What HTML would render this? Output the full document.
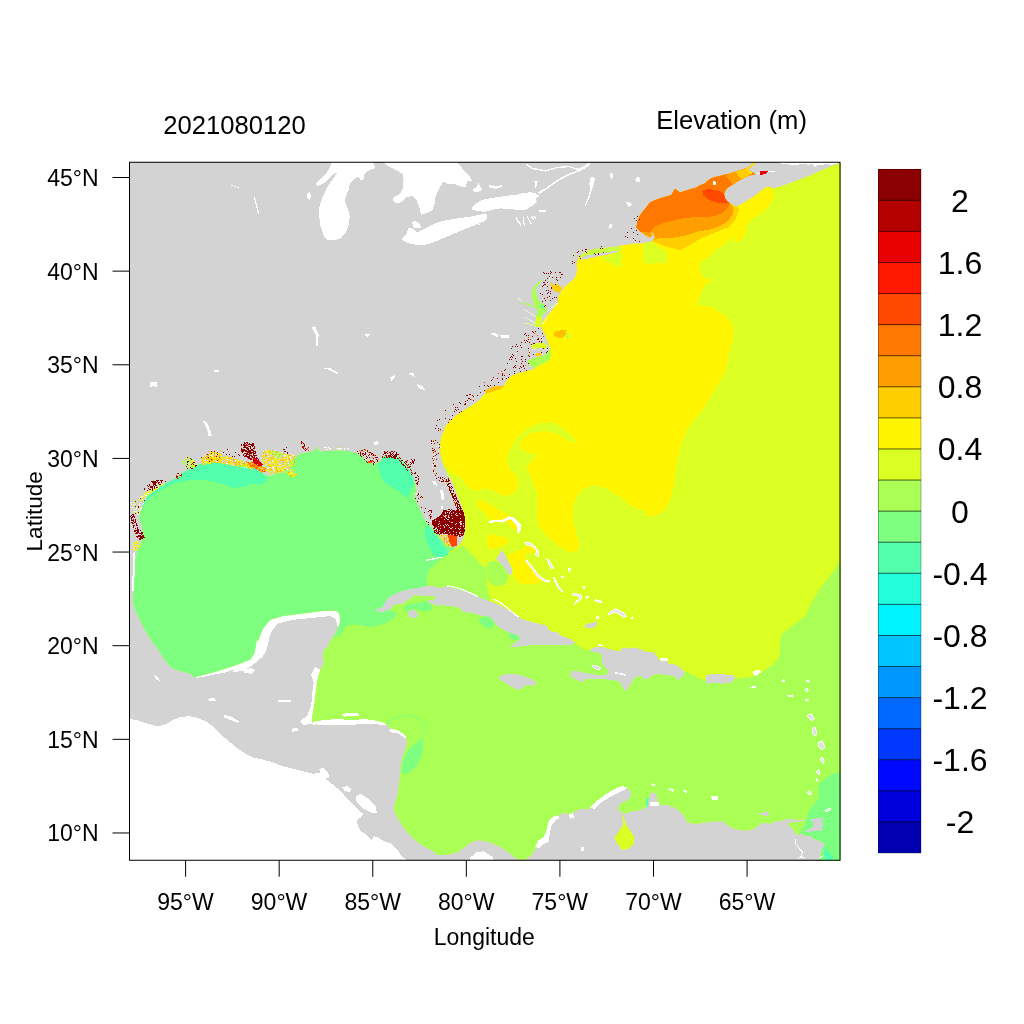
<!DOCTYPE html>
<html><head><meta charset="utf-8"><title>Elevation map</title>
<style>
html,body{margin:0;padding:0;background:#fff;}
body{width:1024px;height:1024px;overflow:hidden;font-family:"Liberation Sans",sans-serif;}
svg{display:block;will-change:transform;}
text{font-family:"Liberation Sans",sans-serif;fill:#000;}
</style></head><body>
<svg width="1024" height="1024" viewBox="0 0 1024 1024">

<defs>
<clipPath id="plot"><rect x="129" y="162" width="712" height="699"/></clipPath>
<clipPath id="ocean"><path d="M840.62 162.5 L839.84 163.28 L832.81 165.62 L825 168.75 L820.31 171.09 L815.62 172.66 L809.38 175.78 L803.12 178.12 L796.88 180.47 L790.62 182.81 L784.38 185.16 L778.12 186.72 L773.44 188.28 L768.75 186.72 L765.62 187.5 L762.5 189.84 L757.81 193.75 L753.12 196.88 L748.44 200 L743.75 203.12 L739.06 205.47 L735.16 206.25 L731.25 203.91 L727.34 201.56 L725 197.66 L724.22 193.75 L725.78 189.84 L728.12 187.5 L732.81 184.38 L737.5 181.25 L742.19 178.91 L746.88 176.56 L751.56 175 L755.47 174.22 L752.5 172.5 L749.5 170.6 L747.5 169 L751.6 166.4 L754.5 164 L755.5 162 L752 162 L753.12 163.28 L750 166.41 L745.31 168.44 L740.62 170 L735.94 171.56 L729.69 173.44 L723.44 175 L717.19 176.56 L711.72 178.12 L707.81 180.47 L704.69 183.59 L700 185.16 L696.25 187.5 L687.5 190 L680 192.5 L675 188.75 L671.25 195 L662.5 197.5 L655 200 L650 202.5 L645 208.75 L640 215 L637.5 221.25 L636.25 227.5 L640 231.25 L645 235 L650 237.5 L652.5 235 L650 232.5 L653 233 L655 238 L651.25 242 L640 243.75 L632.5 243.75 L630 244.4 L622.5 245.6 L615 246.9 L607.5 247.75 L600 248.5 L592.5 249.75 L587.5 251.25 L583.75 253.5 L581.25 255.6 L578.75 257.5 L577.5 260 L576.5 265 L577.5 270 L576.09 275.47 L573.75 279.38 L569.06 283.28 L564.38 287.19 L561.25 291.88 L558.91 295.78 L558.12 301.25 L555 306.72 L551.09 311.41 L547.19 316.09 L543.28 320.78 L540.94 324.69 L542.5 329.38 L545.62 335.62 L547.97 341.88 L550.31 348.12 L551.09 354.38 L549.53 359.06 L544.84 362.19 L539.38 365.31 L533.91 369.22 L528.44 370.78 L522.19 372.34 L515.94 373.91 L510.47 377.03 L506.56 380.94 L504.22 385.62 L498.75 388.75 L492.5 390.31 L486.25 392.66 L482.34 396.56 L478.44 401.25 L472.19 405.16 L465.94 409.06 L459.69 412.97 L453.44 417.66 L448.75 422.34 L444.84 427.03 L444.75 430 L441.5 436 L440.25 443.5 L440.25 451 L441.5 458.5 L444 466 L446.5 472.25 L450.25 478.5 L454 486 L457.75 496 L461.5 506 L464 513.5 L465.25 521 L465.25 531 L463.5 538.5 L460.25 543.5 L456.5 547.25 L450.25 547.25 L445.25 544.75 L441.5 539.75 L437.75 534.75 L434 529.75 L429 524.75 L424 518.5 L420.25 509.75 L416.5 502.25 L414 496 L416.5 491 L415.25 483.5 L412.75 476 L409 469.75 L405.25 464.75 L401.5 459.75 L397.75 457.25 L391.5 457.25 L384 456 L380.5 461 L374.25 464 L369.25 463 L365.5 459.75 L361.75 456 L355.5 453 L348 451 L338 450.5 L328 451 L319.25 451.5 L316.75 446 L314.25 451 L308 452.25 L300.5 453.5 L295.5 457.25 L290.5 461 L288 466 L293 469.75 L295.5 474.75 L290.5 472.25 L288 469.75 L283 472.25 L273 474.75 L268 476 L263 473.5 L258 469.75 L250.5 466 L243 464.75 L233 466 L223 463.5 L213 462.25 L203 463.5 L194.25 466 L188 469.75 L181.75 473.5 L175.5 478.5 L168 482.25 L160.5 486 L153 491 L146.75 497.25 L143.5 503.5 L140.5 511 L139.25 518.5 L141.75 526 L143.5 533.5 L141.75 541 L138 548.5 L135 561 L134.25 576 L133.5 591 L133 601 L135.5 611 L140.5 621 L145.5 631 L150.5 638.5 L150.5 640 L158 648.75 L163 657.5 L170.5 667.5 L180.5 671.25 L190.5 673.75 L194.25 677.5 L203 675 L213 672.5 L223 669.5 L233 666.25 L243 662.5 L250.5 659.5 L254.25 653.75 L256 645 L256.75 640 L258 641 L263 628.5 L270.5 619.75 L283 616 L303 613.5 L323 611 L335.5 610.5 L339.25 613.5 L340.5 619.75 L339.25 624.75 L338 628.5 L335.5 633.5 L330.5 641 L326.75 648.5 L323 653.5 L325.5 659.75 L325.5 647.5 L323 655 L324.25 662.5 L320.5 670 L318 677.5 L316.75 685 L315.5 695 L314.25 705 L313 712.5 L311.75 720 L313 723.75 L323 722.5 L333 721.25 L343 722.5 L353 722 L363 720.5 L373 721.25 L384 722.5 L391.5 728.75 L399 732.5 L405.25 736.25 L407.75 742.5 L405.25 750 L402.75 757.5 L401 765 L400.25 775 L399 785 L397.75 795 L395.25 802.5 L394 810 L397.75 817.5 L402.75 826.25 L409 833.75 L416.5 841.25 L424 846.25 L431.5 850 L437.75 855 L446.5 855 L456.5 852.5 L464 847.5 L470.25 842.5 L477.75 840 L486.5 841.25 L494 843.75 L501.5 847.5 L509 852.5 L515.25 857.5 L520.25 860 L526.5 858.75 L531.5 855 L535.25 848.75 L539 842.5 L544 838.75 L547.75 832.5 L549 825 L551.5 818.75 L559 815 L564 812.5 L570.25 815 L574 811.25 L581.5 808.75 L589 808.75 L596.5 805 L602.75 798.75 L609 793.75 L616.5 788.75 L624 787 L630.25 790 L631.5 796.25 L626.5 801.25 L620.25 803.75 L617.75 808.75 L624 813.75 L631.5 811.25 L640 810 L647.5 806.25 L648.75 800 L650 793.75 L653.75 792 L657 795 L658 802.5 L660 805 L667.5 805 L675 807.5 L681.25 812.5 L685 817.5 L687.5 822.5 L695 823.75 L705 822.5 L715 821.25 L723.75 821.25 L727.5 825 L732.5 828 L740 830 L747.5 830.5 L753.75 828.75 L758.75 825 L762.5 822.5 L770 823.75 L775 821.25 L782.5 820.5 L782.5 820.5 L785.7 818.91 L792.81 818.91 L798.91 819.92 L806.02 819.41 L805 820.94 L798.91 821.95 L792.81 822.46 L787.74 823.48 L789.77 826.02 L792.81 829.06 L795.86 833.13 L797.89 835.16 L800.94 833.13 L805 835.16 L810.08 835.67 L815.16 839.22 L821.25 841.25 L825.31 844.3 L823.28 847.35 L821.25 851.41 L820.24 855.47 L819.22 860.55 L840.5 860.5 L840.5 161.5Z"/></clipPath>
</defs>
<g clip-path="url(#plot)" shape-rendering="crispEdges">
<rect x="129" y="162" width="712" height="699" fill="#D3D3D3"/>
<g fill="#fff">
<path d="M128 718 L130 718.75 L138 720.5 L148 723.75 L156.75 726.25 L165.5 724.5 L173 720 L180.5 717 L189.25 716.25 L198 718 L208 722.5 L215.5 728.75 L223 736.25 L230.5 742.5 L238 748.75 L245.5 753.75 L253 757.5 L263 759.5 L273 762.5 L283 766.25 L293 768.75 L303 771.25 L313 773.75 L320.5 772.5 L323 768.75 L326.75 771.25 L328 776.25 L325.5 778.75 L331.75 783.75 L338 788.75 L343 793.75 L348 800 L353 805 L358 810 L363 813.75 L360.5 817.5 L356.75 820 L358 826.25 L360.5 831.25 L365.5 833.75 L369.25 837.5 L371.75 840 L374.25 836.25 L378 837.5 L384 841.25 L391.5 843.75 L397.75 850 L401.5 856.25 L407.75 860.5 L128 861Z"/>
<path d="M470.25 860.5 L470.25 857.5 L476.5 852 L484 851.25 L491.5 856.25 L495.25 860.5Z"/>
<path d="M355.5 796.25 L360.5 793.75 L368 798.75 L375.5 806.25 L376.75 812.5 L370.5 812.5 L363 808.75 L356.75 802.5Z"/>
<path d="M343 787.5 L348 787 L351 790 L346.75 791.5Z"/>
<path d="M331.25 160.98 L372.27 160.98 L375.2 167.81 L368.36 170.74 L364.45 173.67 L363.48 179.53 L360.55 180.51 L358.59 176.6 L353.71 179.53 L349.8 183.44 L348.83 189.3 L345.9 196.13 L344.92 201.99 L347.85 208.83 L349.8 216.64 L348.83 224.45 L345.9 232.27 L341.02 238.12 L334.18 240.47 L327.34 240.08 L323.44 235.2 L320.51 226.41 L319.53 218.59 L318.55 210.78 L320.51 202.97 L322.46 197.11 L325.39 191.25 L328.32 185.39 L333.2 178.55 L337.11 172.7 L334.18 173.67 L329.3 178.55 L323.44 183.44 L317.58 186.37 L315.62 184.41 L319.53 179.53 L325.39 174.65 L329.3 168.79 L331.25 163.91Z"/>
<path d="M382.03 160.98 L387.89 165.86 L395.7 169.77 L402.54 173.67 L403.52 179.53 L402.54 189.3 L399.61 194.18 L393.75 197.11 L392.77 201.02 L396.68 203.36 L401.56 201.99 L406.45 197.11 L412.3 196.13 L416.21 199.06 L419.14 206.88 L421.09 214.69 L426.95 213.12 L432.81 209.8 L434.77 202.97 L435.74 195.16 L439.65 187.34 L443.55 181.48 L448.44 184.41 L454.3 183.44 L460.16 186.37 L466.02 187.34 L466.99 181.48 L471.88 180.51 L469.92 176.6 L465.04 171.72 L461.13 166.84 L456.25 160.98Z"/>
<path d="M412.3 222.5 L415.23 220.55 L419.14 223.48 L421.09 227.38 L417.19 228.36 L413.28 227.38Z"/>
<path d="M401.56 239.1 L406.45 234.22 L408.4 228.36 L412.3 228.36 L417.19 232.66 L425 228.36 L434.77 223.48 L444.53 220.55 L456.25 218.59 L467.97 217.03 L479.69 214.69 L486.52 213.71 L487.5 217.62 L483.59 221.52 L473.83 225.43 L462.11 230.31 L450.39 235.2 L438.67 240.08 L428.91 243.98 L421.09 245.55 L411.33 243.98 L405.47 242.03Z"/>
<path d="M471.25 207.85 L475.16 203.95 L481.99 200.04 L490.78 198.09 L500.55 196.72 L508.36 195.55 L516.17 195.16 L522.03 193.2 L529.84 192.23 L535.7 193.2 L539.61 196.13 L535.7 198.09 L536.68 201.99 L533.75 204.92 L528.87 207.85 L523.98 210.39 L516.17 209.8 L508.36 208.83 L500.55 208.44 L492.73 209.8 L484.92 211.76 L477.11 211.17 L472.23 209.8Z"/>
<path d="M472.81 189.3 L476.13 187.34 L478.67 183.05 L480.62 187.34 L481.99 190.27 L477.11 192.23 L473.59 191.25Z"/>
<path d="M488.83 185 L496.64 186.37 L502.5 185 L502.11 186.95 L495.66 188.91 L489.8 187.34Z"/>
<path d="M306.84 193.2 L309.77 192.23 L311.33 196.13 L309.38 200.04 L307.42 198.09Z"/>
<path d="M233 672 L238 666 L253 656 L258 641 L263 628.5 L270.5 619.75 L283 616 L303 613.5 L323 611 L335.5 610.5 L339.25 613.5 L340.5 619.75 L339.25 625.5 L337.5 625.5 L335.5 619 L330.5 616 L318 617.25 L293 619.75 L278 623.5 L271.75 631 L268 641 L263 656 L253 664.75 L243 671Z"/>
<path d="M210.5 675 L203 677 L194.25 678 L203 675 L213 672.5 L223 669.5 L233 666.25 L243 662.5 L250.5 659.5 L254.25 653.75 L256 645 L256.75 637.5 L269.25 637.5 L268 645 L265.5 652.5 L261.75 657.5 L255.5 661.25 L248 664.25 L243 666.75 L233 670 L223 673Z"/>
<path d="M243 670 L250.5 668 L255.5 670 L251.75 673.75 L244.25 673Z"/>
<path d="M320.5 670 L318 677.5 L316.75 685 L315.5 695 L314.25 705 L313 712.5 L311.75 720 L313 723.75 L303 725 L300 721.5 L307.5 715 L311.25 705 L312 695 L313.75 682.5 L311.25 675 L315 667Z"/>
<path d="M313 723.75 L323 722.5 L333 721.25 L343 722.5 L353 722 L363 720.5 L373 721.25 L384 722.5 L393 726.25 L384 725 L373 724 L363 723.5 L353 725 L343 725.5 L333 724.5 L323 725.5Z"/>
</g>
<g clip-path="url(#ocean)">
<rect x="129" y="162" width="712" height="699" fill="#DCFF23"/>
<path fill="#AAFF55" d="M300 626 L338 622 L360 615 L384 608 L400 598 L410 593 L430 590 L470 600 L520 625 L560 636 L575.6 642.7 L580.3 647.3 L585 650.5 L591 649.5 L600 651 L620 660 L660 668 L684.2 671.5 L689.7 673 L696 677 L702.2 679.4 L705.3 680 L720 679 L735 677.5 L740 678.75 L750 677 L760 673.75 L765 670 L772.5 665 L778.75 657.5 L780.5 650 L780 641 L782.5 633.5 L792.5 626 L805 616 L812.5 601 L820 588.5 L830 576 L838.75 563.5 L842 559 L842 862 L300 862Z"/>
<path fill="#AAFF55" d="M439.06 560.16 L433.59 565.62 L428.12 571.88 L426.56 578.12 L427.34 585.94 L427.34 596.88 L489.84 603.12 L489.84 596.88 L488.28 593.75 L487.5 587.5 L486.72 581.25 L485.94 573.44 L485.16 567.97 L481.25 564.84 L478.12 560.94 L473.44 556.25 L468.75 551.56 L465.62 548.44 L462.5 545.31 L459.38 546.88 L453.12 551.56 L441.41 557.03Z"/>
<path fill="#AAFF55" d="M487.5 562.5 L493.75 560.94 L500 562.5 L504.69 567.19 L507.81 573.44 L507.81 579.69 L504.69 584.38 L498.44 585.94 L492.19 585.16 L488.28 581.25 L486.72 575 L485.94 568.75Z"/>
<path fill="#7FFF80" d="M120 440 L440 440 L450 500 L458 540 L456 548 L448 553 L439 560 L433.6 565.6 L428 571.9 L426.6 578 L427.3 586 L427 590 L410 592 L392 598 L388 606 L390 610.25 L392.5 611.25 L396.25 612.5 L396.9 614.4 L393.75 617.5 L390 620.6 L385 623.75 L378.75 625.6 L372.5 626.9 L366.25 626.5 L360 625 L353.75 624.4 L347.5 625 L343.75 628.75 L341.25 635 L336 636 L330 640 L300 700 L120 700Z"/>
<path fill="#FFF500" d="M768.75 186.72 L773.44 190.62 L775 195.31 L771.88 201.56 L767.19 207.81 L762.5 212.5 L754.69 217.19 L748.44 223.44 L745.31 228.12 L746.88 231.25 L743.75 237.5 L739.06 242.19 L734.38 242.19 L732.81 237.5 L726.56 242.19 L723.44 244.53 L715.62 250 L707.81 257.81 L700 262.5 L698.75 267.5 L702.5 277.5 L712.5 280 L705 285 L700 295 L696.25 305 L710 306.25 L720 312.5 L730 320 L733.75 330 L732.5 340 L728.75 355 L725 372.5 L715 390 L702.5 410 L697.5 416 L687.5 428.5 L681.25 443.5 L676.25 466 L673.75 486 L670 501 L662.5 512.25 L653.75 516 L646.25 516 L646.25 511 L640 509.75 L631.5 506 L619 496 L606.5 488.5 L594 484.75 L584 488.5 L576.5 496 L572.75 508.5 L572.75 521 L576.5 533.5 L579 543.5 L577.75 551 L569 552.25 L559 546 L546.5 536 L539 526 L536.5 516 L537.75 503.5 L536.5 491 L531.5 478.5 L526.5 468.5 L531.5 461 L537.75 454.75 L529 453.5 L519 448.5 L520.25 441 L529 433.5 L544 431 L556.5 433.5 L569 441 L577.75 442.25 L569 433.5 L554 422.25 L539 423.5 L526.5 428.5 L519 436 L511.5 446 L506.5 458.5 L509 468.5 L516.5 476 L519 483.5 L514 493.5 L504 496 L494 491 L484 488.5 L476.5 491 L469 488.5 L461.5 478.5 L451.5 473.5 L444 466 L430 460 L430 400 L520 300 L560 250 L620 220 L640 180 L760 160 L775 180Z"/>
<path fill="#DCFF23" d="M600 257.5 L607.5 255.62 L615 253.12 L621.25 250.62 L621.88 257.5 L620.62 266.25 L617.5 267.5 L612.5 263.75 L606.25 261.25 L601.25 259Z"/>
<path fill="#DCFF23" d="M643.75 245 L647.5 241.88 L652.5 241.25 L655 245 L660 248.12 L666.25 251.25 L667.5 258.75 L665 263.75 L657.5 263.12 L650 264.38 L643.75 262.5 L642.5 256.25 L643.75 250Z"/>
<path fill="#C8FF40" d="M582 258 L585 253 L590 250 L597.5 248 L605 247 L612 246.3 L620 245.5 L622 250 L615 251.2 L610 252 L602.5 253 L595 254.2 L588.75 255.2Z"/>
<path fill="#FFCE00" d="M654 242 L665 246.25 L680 250 L690 245 L702.5 237.5 L715 232.5 L727.5 227.5 L735 220 L738.75 210 L737.5 206 L735 203 L760 175 L760 160 L640 160 L630 240Z"/>
<path fill="#FF9E00" d="M653.75 240 L660 237.5 L675 237.5 L687.5 235 L700 231 L709.4 229.7 L718.75 226.6 L726.6 221.9 L732 215.6 L733.6 209.4 L731.25 204 L760 175 L760 160 L640 160 L630 240Z"/>
<path fill="#FF7800" d="M650 232.5 L655 226.25 L665 222.5 L680 218.75 L695 217 L707.8 217.2 L715.6 215.6 L723.4 212.5 L728 207.8 L729.7 203 L760 175 L760 160 L640 160 L630 232Z"/>
<path fill="#FF4800" d="M702.34 190.62 L707.81 189.06 L715.62 189.84 L721.88 192.19 L724.22 194.53 L725.78 200 L729.69 203.12 L723.44 203.12 L715.62 202.34 L707.81 199.22 L703.12 195.31Z"/>
<path fill="#FF9E00" d="M725.78 175.78 L733.59 185.16 L742.19 180.47 L734.69 171.09Z"/>
<path fill="#FFCE00" d="M734.69 171.09 L742.19 180.47 L752.34 173.44 L745.31 167.19Z"/>
<path fill="#FFF500" d="M744.53 167.5 L751.56 173.44 L758.59 165.62 L754.69 160.94Z"/>
<path fill="#FFCE00" d="M553.75 331.25 L565 330 L566.25 335 L561.25 338 L554.5 336.25Z"/>
<path fill="#FFCE00" d="M550.5 282 L555 285.75 L563 287 L560 292.5 L554.5 291.75Z"/>
<path fill="#FFC000" d="M553.75 334.06 L556.88 331.33 L561.56 330.16 L566.64 330.16 L565.86 333.28 L564.69 336.41 L560.78 337.19 L556.88 337.58 L554.53 335.62Z"/>
<path fill="#AAFF55" d="M566.64 333.67 L568.2 333.28 L569.38 336.41 L567.81 339.53 L566.41 337.19Z"/>
<path fill="#FFF500" d="M476.56 500.78 L482.81 500 L490.62 504.69 L496.88 508.59 L503.12 512.5 L509.38 515.62 L514.06 518.75 L518.75 523.44 L520.31 528.91 L517.19 532.03 L512.5 528.12 L507.81 523.44 L503.12 521.09 L496.88 521.09 L492.19 522.66 L489.06 518.75 L484.38 512.5 L478.12 507.81 L476.56 503.91Z"/>
<path fill="#FFF500" d="M486.72 535.16 L492.19 534.38 L500 536.72 L506.25 537.5 L508.59 541.41 L506.25 544.53 L500 546.88 L493.75 548.44 L489.06 549.22 L486.72 543.75Z"/>
<path fill="#FFF500" d="M507.81 554.69 L514.06 552.34 L520.31 550 L525 546.88 L529.69 544.53 L535.94 546.88 L538.28 551.56 L537.5 555.47 L532.81 553.12 L528.12 552.34 L525 554.69 L526.56 560.94 L531.25 565.62 L535.94 570.31 L540.62 576.56 L543.75 579.69 L539.06 582.81 L532.81 584.38 L525 584.38 L518.75 582.81 L514.84 578.12 L513.28 573.44 L512.5 567.19 L509.38 560.94Z"/>
<path fill="#53FFAC" d="M141.28 508.91 L148.31 498.75 L159.25 490.94 L174.88 483.12 L190.5 480 L206.12 480 L221.75 483.91 L234.25 487.81 L243.62 487.03 L249.88 483.91 L260.81 484.69 L267.06 480.78 L266.28 476.88 L262.38 472.19 L253 465.94 L237.38 461.25 L221.75 458.12 L206.12 458.12 L190.5 464.38 L174.88 475.31 L159.25 484.69 L146.75 494.06 L138.94 503.44Z"/>
<path fill="#53FFAC" d="M377.5 465.3 L382.2 459.8 L386 455 L392 454 L398 458 L404 464 L410 471 L414 478 L413.5 485 L409.5 492 L407 498.6 L403.4 495 L397.6 490.4 L391.7 486.9 L385.9 483.4 L382.2 478.6 L379.8 471.6Z"/>
<path fill="#53FFAC" d="M425.78 526.56 L428.91 525.78 L432.03 530.47 L435.16 535.16 L439.06 539.84 L442.97 545.31 L446.88 549.22 L448.44 554.69 L442.19 557.03 L436.72 557.81 L432.81 553.12 L428.91 546.88 L425.78 539.84 L424.69 532.81Z"/>
<path fill="#7FFF80" d="M403.12 607.5 L407.5 604.38 L415 603.12 L421.25 601.88 L426.25 601.25 L430 603.75 L432.5 606.25 L431.88 609.38 L427.5 611.25 L422.5 611.25 L417.5 610 L413.75 609 L410 609.75 L407.5 612.5 L405 610Z"/>
<path fill="#7FFF80" d="M478.91 618.75 L484.38 616.41 L489.84 617.19 L493.75 621.88 L493.75 626.56 L489.06 628.91 L483.59 626.56 L479.69 622.66Z"/>
<path fill="#7FFF80" d="M507.81 632.81 L514.06 632.81 L519.53 635.94 L518.75 639.84 L514.06 640.62 L509.38 637.5Z"/>
<path fill="#7FFF80" d="M401 772.5 L402.75 760 L407.75 750 L415.25 743.75 L422.75 738 L423.5 745 L421.5 755 L417.75 765 L411.5 771.25 L405.25 774.5Z"/>
<path fill="#7FFF80" d="M841.06 771.68 L833.44 773.2 L828.36 776.25 L823.28 780.31 L819.22 784.38 L818.2 790.47 L818.71 797.58 L816.17 802.66 L812.11 806.72 L809.06 810.78 L807.54 815.86 L806.02 819.92 L804.49 825 L800.94 831.09 L797.89 835.67 L811.09 838.2 L820.24 842.77 L821.25 848.36 L817.19 861.56 L841.06 861.56Z"/>
<path fill="#53FFAC" d="M823.28 847.35 L826.33 849.38 L830.39 853.44 L833.44 856.99 L831.41 861.06 L825.31 861.06 L823.79 851.41Z"/>
<path fill="#53FFAC" d="M646.25 798.75 L649.5 798 L650 807 L646.5 808Z"/>
</g>
<path fill="#DCFF23" d="M623.75 814.25 L625 822.5 L628.75 828.75 L633.75 836.25 L633.75 843.75 L628.75 848.75 L622.5 850 L617.5 843.75 L614.5 837.5 L618.75 831.25 L623 825 L622.5 817.5Z"/>
<g fill="#D3D3D3">
<path d="M581.25 257.5 L585 255.6 L591.25 254.75 L597.5 253.75 L603.75 252.75 L610 251.9 L615 251 L618.75 251.25 L615 252.75 L610 254 L603.75 255.25 L597.5 256.5 L591.25 257.75 L585 259 L580 260.25Z"/>
<path d="M373.75 610.62 L377.5 609 L383.12 607.25 L383.75 603.75 L386.25 600 L390 596.25 L395 593.75 L402.5 591 L410 589 L417.5 588.12 L426.25 586.25 L435 586.5 L438.75 588.12 L443.75 586.88 L448.75 587.5 L455 588.75 L461.25 590.62 L468 591.88 L471.88 593.75 L478.12 596.88 L484.38 599.22 L490.62 601.56 L496.88 603.91 L503.12 607.03 L509.38 610.94 L515.62 614.84 L521.88 618.75 L528.12 621.09 L534.38 622.66 L540.62 624.22 L546.88 625.78 L548.44 629.69 L553.12 632.03 L560 632.81 L559 634.75 L569 638.5 L575.25 642.25 L571.5 644.75 L559 644.75 L546.5 644.75 L534 644.75 L524 646 L514 647.25 L509 647.25 L512.5 644.53 L518.75 640.62 L520.31 637.5 L515.62 634.38 L509.38 632.81 L504.69 630.47 L500 628.12 L495.31 623.44 L492.19 618.75 L487.5 616.41 L481.25 615.62 L475 614.06 L468.75 611.72 L468 613.12 L463.75 611.88 L460 608.75 L456.25 606.88 L450 606.25 L445 606.25 L443.75 603.75 L440 606.25 L435 605 L430 603.12 L427.5 600.62 L432.5 600 L435.62 598.75 L433.75 596.25 L427.5 595.62 L420 595.62 L415 595 L412.5 596.88 L408.75 599.38 L405 602.5 L401.25 604.38 L396.25 604.38 L392.5 606.25 L390 610 L386.25 610.62 L382.5 612.5 L377.5 611.25Z"/>
<path d="M407.5 613.75 L409.38 610.62 L413.12 609.75 L416.25 611.25 L418.12 614.38 L416.88 617.5 L413.12 618.5 L409.38 617.5Z"/>
<path d="M496.09 559.38 L500 553.12 L502.34 550 L504.69 553.91 L507.03 559.38 L509.38 564.06 L511.72 568.75 L512.5 573.44 L510.16 575.78 L507.81 572.66 L504.69 567.97 L500.78 563.28Z"/>
<path d="M497.75 677.5 L504 674.5 L514 673.75 L524 676.25 L532.75 679.5 L537 683.75 L532.75 685.75 L526.5 685 L521.5 688.75 L517.75 690 L512.75 687.5 L506.5 683.75 L500.25 680Z"/>
<path d="M589.69 649.69 L594.38 647.34 L602.19 646.88 L608.44 648.91 L614.69 650.47 L620.16 651.25 L622.5 648.12 L628.75 648.59 L635 647.34 L641.25 649.69 L647.5 652.03 L653.75 652.03 L656.88 656.72 L660 660.62 L666.25 660.94 L669.38 663.75 L675.62 664.53 L680.31 667.66 L684.22 671.56 L683.44 675.47 L680.31 678.59 L677.97 680.16 L675.62 677.03 L669.38 675.47 L663.12 674.69 L656.88 673.91 L652.19 675.47 L647.5 679.06 L643.59 679.38 L641.25 675.47 L636.56 677.03 L633.44 678.59 L631.88 682.5 L629.53 686.41 L625.62 691.09 L622.5 687.19 L620.16 682.5 L614.69 680.16 L606.88 679.38 L599.06 679.06 L591.25 678.59 L585 679.38 L581.88 682.5 L578.75 680.94 L574.06 678.59 L570.16 675.47 L570.94 671.56 L575.62 670.78 L583.44 672.34 L591.25 673.91 L599.06 675 L605.31 674.69 L609.22 672.34 L606.88 669.22 L602.97 665.31 L601.41 660.62 L602.19 655.94 L599.06 652.81 L592.81 652.03Z"/>
<path d="M592.03 666.09 L595.94 665.31 L600.62 667.66 L599.84 669.69 L595.16 668.75Z" fill="#E0E0E0" stroke="#fff" stroke-width="0.9"/>
<path d="M706.25 675 L715 673.75 L725 674.5 L733.75 675.5 L735 678.75 L731.25 682.5 L722.5 683.75 L713.75 683 L707.5 683.75 L705.5 680Z"/>
<path d="M584.38 625.16 L588.75 623.59 L593.44 622.5 L596.56 621.25 L597.34 623.59 L595.78 626.72 L591.09 628.28 L585.62 628.28Z"/>
<path d="M810.08 819.41 L815.16 818.4 L820.24 817.89 L823.79 817.38 L822.27 820.94 L822.77 826.02 L821.25 830.59 L815.16 831.09 L810.08 831.6 L805 831.6 L809.06 829.06 L812.62 827.03 L813.13 822.97Z"/>
<path d="M824.81 810.78 L830.39 807.74 L830.9 809.26 L826.33 811.8Z" fill="#E0E0E0" stroke="#fff" stroke-width="0.9"/>
<path d="M758.28 813.32 L763.36 812.81 L767.42 811.29 L769.45 812.81 L768.44 815.35 L765.39 815.86 L762.34 814.84 L758.79 814.34Z"/>
<path d="M806.5 680.1 L808.3 679.5 L809.5 681.45 L808.45 682.5 L806.95 681.6Z" fill="#E0E0E0" stroke="#fff" stroke-width="0.9"/>
<path d="M805.5 688.8 L807.3 688 L808.5 690.6 L807.45 692 L805.95 690.8Z" fill="#E0E0E0" stroke="#fff" stroke-width="0.9"/>
<path d="M805.5 699.1 L807.3 698.5 L808.5 700.45 L807.45 701.5 L805.95 700.6Z" fill="#E0E0E0" stroke="#fff" stroke-width="0.9"/>
<path d="M807.5 714.9 L811.7 713.5 L814.5 718.05 L812.05 720.5 L808.55 718.4Z" fill="#E0E0E0" stroke="#fff" stroke-width="0.9"/>
<path d="M812 728.8 L815 727 L817 732.85 L815.25 736 L812.75 733.3Z" fill="#E0E0E0" stroke="#fff" stroke-width="0.9"/>
<path d="M818 742.8 L822.2 741 L825 746.85 L822.55 750 L819.05 747.3Z" fill="#E0E0E0" stroke="#fff" stroke-width="0.9"/>
<path d="M820.5 757.9 L822.9 756.5 L824.5 761.05 L823.1 763.5 L821.1 761.4Z" fill="#E0E0E0" stroke="#fff" stroke-width="0.9"/>
<path d="M816.7 770.5 L818.86 769.5 L820.3 772.75 L819.04 774.5 L817.24 773Z" fill="#E0E0E0" stroke="#fff" stroke-width="0.9"/>
<path d="M816 779.1 L817.2 778.5 L818 780.45 L817.3 781.5 L816.3 780.6Z" fill="#E0E0E0" stroke="#fff" stroke-width="0.9"/>
<path d="M807.7 791.68 L809.86 790.8 L811.3 793.66 L810.04 795.2 L808.24 793.88Z" fill="#E0E0E0" stroke="#fff" stroke-width="0.9"/>
<path d="M782 680.28 L783.8 679.8 L785 681.36 L783.95 682.2 L782.45 681.48Z" fill="#E0E0E0" stroke="#fff" stroke-width="0.9"/>
<path d="M787.5 695.4 L790.5 695 L792.5 696.3 L790.75 697 L788.25 696.4Z" fill="#E0E0E0" stroke="#fff" stroke-width="0.9"/>
<path d="M651 783.8 L655 785 L654.2 786.2 L651.8 785Z" fill="#E0E0E0" stroke="#fff" stroke-width="0.9"/>
<path d="M668.5 788.5 L673.5 790 L672.5 791.5 L669.5 790Z" fill="#E0E0E0" stroke="#fff" stroke-width="0.9"/>
<path d="M683.5 790 L686.5 791.5 L685.9 793 L684.1 791.5Z" fill="#E0E0E0" stroke="#fff" stroke-width="0.9"/>
</g>
<path fill="#FF4800" d="M448 535.19 L457.37 535.55 L457.02 545.51 L452.68 546.92 L449.4 543.17Z"/>
<g fill="#fff"><path d="M132.69 553.44 L135.34 551.88 L135.34 562.81 L134.56 575.31 L134.25 590.94 L132.06 590.94 L132.69 570.62Z"/><path d="M311.25 327 L315 326.25 L318.75 335 L317.5 346.25 L315.5 346.25 L316.5 336.25Z"/><path d="M322.5 368 L328.75 367.5 L337.5 372.5 L336.5 373.75 L328 369.5Z"/><path d="M490 332.5 L497.5 333.75 L498.75 337.5 L492.5 335Z"/><path d="M500 335 L508.75 335.5 L509.5 338 L501.25 337.5Z"/><path d="M416.25 383.75 L422.5 386.25 L425 390 L418.75 388Z"/><path d="M390 377.5 L394.5 375 L395.5 377.5 L391.5 380.5Z"/><path d="M407.5 372.5 L413.75 373 L414.5 376.5 L410 375Z"/><path d="M365 333.75 L370 334.5 L367.5 337Z"/><path d="M203 421 L206.75 422.25 L210.5 431 L211.75 436 L208.5 435.5 L207 428.5Z"/><path d="M373 442.25 L378 441 L379 444 L374.25 445Z"/><path d="M431.58 481.03 L433.93 480.8 L437.44 483.96 L436.27 485.96 L433.34 483.61Z"/><path d="M439.79 490.41 L442.72 489.82 L444.48 496.27 L443.89 500.02 L441.55 499.2 L440.96 493.93Z"/><path d="M440.96 505.65 L443.31 505.65 L443.31 509.17 L441.2 509.17Z"/><path d="M208 698.75 L214.25 698 L216 701.25 L209.25 701.25Z"/><path d="M224.25 715 L230.5 716.25 L239.25 721.25 L238 723 L229.25 719.5 L224.25 717.5Z"/><path d="M154.25 675 L158 677 L159.5 680.5 L156 679.5Z"/><path d="M278 700.5 L290.5 700 L291 702 L278.5 702.5Z"/><path d="M291.75 728.75 L298 727.5 L298 730.5 L292.5 732Z"/><path d="M319.25 768.75 L323 768 L328 772.5 L329.25 777.5 L325.5 777 L320.5 772.5Z"/><path d="M637 177.5 L639 176.5 L640 181 L637.5 182.5Z"/><path d="M626.25 202.5 L629.5 201.5 L632 205 L628.5 206.5Z"/><path d="M610 224.5 L612 224 L612 228 L610 228.5Z"/><path d="M610 173.75 L611.5 173.25 L612.5 178.75 L611 179.25Z"/><path d="M712.5 181.25 L715 180.5 L716 184.5 L713 185.5Z"/><path d="M231 184.8 L240 187.8 L239.8 188.6 L231 185.6Z"/><path d="M254 197.5 L255 197.3 L259 213.5 L258 213.8Z"/><path d="M150 382 L157 382 L157 387 L153 386 L150 387Z"/><path d="M214 370 L219 370.5 L219 372.5 L214 372Z"/><path d="M365 334 L369 335 L368 337 L365 336Z"/><path d="M795.66 837.19 L796.47 837.19 L796.06 843.28 L799.41 848.16 L803.48 852.22 L801.55 856.69 L798.4 859.33 L797.69 858.72 L800.74 856.28 L802.36 852.42 L798.7 848.77 L795.25 843.49Z"/><path d="M800.94 857.3 L809.06 857.7 L809.06 858.52 L800.94 858.11Z"/><path d="M819.22 857.5 L824.3 854.45 L824.7 855.27 L819.83 858.31Z"/><path d="M777.59 162.09 L839.89 162.09 L836.67 163.59 L831.3 164.88 L825.93 164.02 L821.63 164.88 L817.34 165.42 L815.19 166.82 L813.04 165.74 L813.04 163.81 L808.74 164.88 L804.45 163.81 L800.15 164.34 L793.71 165.42 L785.11 163.81 L777.59 163.27Z"/><path d="M766.85 171.11 L776.52 170.57 L777.06 171.33 L767.39 172.19Z"/><path d="M342.19 714.06 L350 712.5 L359.38 713.75 L358.59 715.62 L350 715.94 L343.75 716.88Z"/><path d="M312.5 721.88 L323.44 720 L337.5 719.06 L351.56 720 L365.62 719.06 L378.12 721.09 L385.16 723.44 L384.38 725 L375 723.44 L362.5 721.88 L351.56 723.44 L337.5 723.44 L323.44 723.75 L313.28 724.69Z"/><path d="M389.06 729.69 L393.75 728.91 L400 731.25 L406.25 736.72 L405 738.28 L398.44 733.59 L389.84 732.03Z"/><path d="M341.88 787.5 L346.88 785.94 L351.56 789.06 L349.69 792.19 L344.53 790.62Z"/><path d="M318.75 769.53 L323.44 767.97 L328.12 773.44 L329.69 777.34 L325.78 778.12 L321.88 773.44Z"/><path d="M537.66 192.23 L545.47 188.32 L553.28 182.46 L561.09 177.58 L568.91 173.67 L576.72 170.74 L583.55 167.81 L589.41 163.12 L590.78 163.91 L584.53 168.98 L577.5 172.11 L569.69 175.04 L561.88 178.95 L554.06 183.83 L546.25 189.69 L539.22 194.18Z"/><path d="M526.91 163.91 L532.77 167.81 L545.47 170.16 L557.19 166.84 L568.91 165.86 L578.67 168.79 L584.53 165.86 L588.44 163.12 L589.22 164.3 L584.92 167.42 L578.67 170.16 L568.91 167.23 L557.19 168.2 L545.47 171.52 L532.19 169.18 L525.94 164.88Z"/><path d="M590.39 177.58 L593.32 176.6 L595.27 178.55 L593.32 185.39 L591.37 191.25 L589.41 198.09 L585.51 205.9 L584.14 206.48 L588.05 198.09 L590 190.27 L589.41 183.44Z"/><path d="M515.78 217.62 L516.95 217.23 L518.91 222.5 L517.73 222.89Z"/><path d="M518.71 222.11 L519.88 221.72 L521.64 225.43 L520.47 225.82Z"/><path d="M522.62 217.62 L523.79 217.42 L524.96 226.02 L523.79 226.21Z"/><path d="M526.52 216.64 L527.7 216.25 L531.99 224.06 L530.82 224.65Z"/><path d="M530.43 216.64 L531.6 216.25 L534.34 219.38 L533.16 219.96Z"/><path d="M533.16 216.25 L534.34 215.86 L536.68 218.4 L535.51 218.98Z"/><path d="M539.22 210 L545.47 210.78 L545.86 212.34 L539.61 211.56Z"/><path d="M533.75 180.51 L537.66 181.09 L536.09 187.34 L534.73 188.52 L534.92 183.44Z"/><path d="M609.92 173.67 L612.27 172.89 L613.05 177.97 L611.09 178.75Z"/><path d="M626.52 201.99 L629.06 201.41 L631.02 204.92 L627.89 206.09Z"/><path d="M608.95 225.43 L611.48 224.06 L612.27 227.38 L609.53 228.75Z"/><path d="M635.31 178.55 L640 177.97 L640 181.48 L635.7 181.88Z"/><path d="M476.13 223.48 L477.11 222.7 L480.23 224.84 L479.26 225.62Z"/><path d="M538.63 210.39 L545.47 209.8 L546.45 211.17 L539.22 211.95Z"/><path d="M426.25 559.69 L434.38 558.12 L441.88 556.56 L442.19 557.5 L434.69 559.38 L426.56 560.94Z"/><path d="M488.28 521.88 L493.75 519.53 L501.56 520.31 L509.38 516.41 L514.06 517.19 L518.75 521.88 L521.09 525 L520.31 531.25 L517.97 534.38 L516.41 531.25 L517.19 526.56 L514.06 521.88 L509.38 519.06 L503.12 522.66 L495.31 521.88 L489.06 523.44Z"/><path d="M446.88 585.16 L453.12 586.25 L459.38 587.81 L465.62 590.31 L471.88 592.97 L478.12 596.09 L477.81 597.19 L471.56 594.06 L465.31 591.56 L459.06 589.06 L452.81 587.5 L446.88 586.41Z"/><path d="M493.75 598.44 L500 601.56 L506.25 606.25 L512.5 611.72 L518.75 616.41 L518.12 617.5 L511.88 612.81 L505.62 607.5 L499.38 602.81 L493.44 599.69Z"/><path d="M598.28 644.22 L604.53 645 L604.22 646.09 L598.59 645.47Z"/><path d="M614.69 671.56 L617.81 671.88 L618.12 674.06 L615 673.91Z"/><path d="M619.38 672.81 L625.62 673.91 L625.31 675.78 L619.69 674.69Z"/><path d="M660 658.28 L667.81 657.97 L668.12 660.94 L660.78 660.94Z"/><path d="M752.5 671.25 L760 669.5 L761.25 672.5 L754.5 676.25Z"/><path d="M749.5 686.75 L755.5 686 L755.5 688 L750 688.5Z"/><path d="M711.25 796.5 L717.5 796 L717.5 800 L711.75 800Z"/><path d="M650 802.5 L658.75 802 L659.5 805.5 L650.5 806Z"/><path d="M590.35 807.46 L597.19 800.62 L605 794.77 L614.77 788.91 L622.58 785.98 L626.88 787.34 L624.53 789.69 L621.02 791.64 L616.72 793.59 L608.91 797.7 L601.09 802.58 L594.26 808.83Z"/><path d="M535.08 846.33 L538.2 840.66 L544.06 836.76 L546.99 828.36 L548.95 820.55 L553.83 816.25 L558.52 816.25 L558.52 818.59 L555.78 820.16 L551.88 824.84 L549.92 832.66 L548.95 841.64 L542.89 844.57 L538.98 848.28Z"/><path d="M568.87 814.69 L573.36 813.12 L573.75 817.62 L570.23 818.98Z"/><path d="M580.59 846.91 L583.52 847.3 L583.52 850.82 L580.98 850.43Z"/></g>
<g fill="#E6E6E6" stroke="#fff" stroke-width="0.9"><path d="M524.69 542.34 L529.38 542.34 L535.62 547.03 L538.75 550.94 L537.97 557.19 L535.62 554.84 L536.41 550.16 L532.5 546.25 L526.25 544.69Z"/><path d="M526.25 559.53 L530.94 565 L535.62 571.25 L540.31 576.72 L545 579.84 L549.69 580.94 L549.38 582.19 L544.38 581.25 L539.38 577.97 L534.69 572.5 L530 566.25 L525.62 560.78Z"/><path d="M545.78 557.97 L548.91 560.31 L552.03 565 L553.59 568.12 L551.25 568.44 L548.91 564.22Z"/><path d="M553.59 576.72 L556.72 582.19 L559.06 586.88 L562.19 590 L562.5 591.88 L559.84 589.69 L556.72 586.09 L554.38 580.62Z"/><path d="M561.41 576.25 L563.75 576.25 L563.75 577.5 L561.41 577.5Z"/><path d="M568.44 568.12 L570.31 568.12 L570.31 571.25 L568.75 571.25Z"/><path d="M572.34 593.12 L576.25 593.91 L580.94 594.69 L581.25 598.59 L577.81 601.72 L573.91 604.84 L575.47 601.72 L579.38 598.59 L578.59 596.25 L573.12 595Z"/><path d="M594.69 599.69 L598.12 600.16 L602.03 601.25 L601.56 602.81 L597.34 601.88 L594.69 601.25Z"/><path d="M607.5 614.22 L610.62 611.09 L616.09 608.75 L620 611.09 L624.69 613.44 L626.25 616.56 L623.91 617.34 L620 614.69 L616.09 612.19 L612.19 613.12 L609.06 615Z"/><path d="M596.09 616.56 L598.91 616.56 L598.91 618.59 L596.09 618.59Z"/><path d="M631.72 616.56 L632.81 616.56 L632.81 618.91 L631.72 618.91Z"/><path d="M582.5 586.88 L584.84 586.88 L584.84 588.12 L582.5 588.12Z"/><path d="M585.62 596.56 L588.44 596.25 L588.75 597.81 L585.94 598.12Z"/></g>
<path fill="#8B0000" d="M132 514h1v1h-1zM133 514h1v1h-1zM131 515h1v1h-1zM133 515h1v1h-1zM130 516h1v1h-1zM132 516h1v1h-1zM133 516h1v1h-1zM134 516h1v1h-1zM131 517h1v1h-1zM132 517h1v1h-1zM134 517h1v1h-1zM131 518h1v1h-1zM131 519h1v1h-1zM133 519h1v1h-1zM135 519h1v1h-1zM131 520h1v1h-1zM132 520h1v1h-1zM133 520h1v1h-1zM135 520h1v1h-1zM133 521h1v1h-1zM135 521h1v1h-1zM131 522h1v1h-1zM132 522h1v1h-1zM134 522h1v1h-1zM135 522h1v1h-1zM132 523h1v1h-1zM133 523h1v1h-1zM136 523h1v1h-1zM136 524h1v1h-1zM133 525h1v1h-1zM134 525h1v1h-1zM136 525h1v1h-1zM137 525h1v1h-1zM133 526h1v1h-1zM133 527h1v1h-1zM137 527h1v1h-1zM135 528h1v1h-1zM137 528h1v1h-1zM137 529h1v1h-1zM138 529h1v1h-1zM134 530h1v1h-1zM135 530h1v1h-1zM136 530h1v1h-1zM137 530h1v1h-1zM138 530h1v1h-1zM140 530h1v1h-1zM134 531h1v1h-1zM135 531h1v1h-1zM137 531h1v1h-1zM138 531h1v1h-1zM136 532h1v1h-1zM137 532h1v1h-1zM138 532h1v1h-1zM141 532h1v1h-1zM142 532h1v1h-1zM135 533h1v1h-1zM136 533h1v1h-1zM137 533h1v1h-1zM139 533h1v1h-1zM140 533h1v1h-1zM141 533h1v1h-1zM142 533h1v1h-1zM141 534h1v1h-1zM138 535h1v1h-1zM139 535h1v1h-1zM140 535h1v1h-1zM142 535h1v1h-1zM143 535h1v1h-1zM136 536h1v1h-1zM137 536h1v1h-1zM138 536h1v1h-1zM139 536h1v1h-1zM140 536h1v1h-1zM141 536h1v1h-1zM142 536h1v1h-1zM143 536h1v1h-1zM137 537h1v1h-1zM140 537h1v1h-1zM141 537h1v1h-1zM142 537h1v1h-1zM143 537h1v1h-1zM144 537h1v1h-1zM139 538h1v1h-1zM140 538h1v1h-1zM141 538h1v1h-1zM142 538h1v1h-1zM139 539h1v1h-1zM140 539h1v1h-1zM140 498h1v1h-1zM144 500h1v1h-1zM135 501h1v1h-1zM135 506h1v1h-1zM138 506h1v1h-1zM138 507h1v1h-1zM138 512h1v1h-1zM135 513h1v1h-1zM156 480h1v1h-1zM157 480h1v1h-1zM158 480h1v1h-1zM160 480h1v1h-1zM161 480h1v1h-1zM162 480h1v1h-1zM151 481h1v1h-1zM152 481h1v1h-1zM153 481h1v1h-1zM155 481h1v1h-1zM157 481h1v1h-1zM161 481h1v1h-1zM165 481h1v1h-1zM152 482h1v1h-1zM154 482h1v1h-1zM155 482h1v1h-1zM156 482h1v1h-1zM158 482h1v1h-1zM159 482h1v1h-1zM161 482h1v1h-1zM155 483h1v1h-1zM158 483h1v1h-1zM149 484h1v1h-1zM159 484h1v1h-1zM160 484h1v1h-1zM147 485h1v1h-1zM149 485h1v1h-1zM156 485h1v1h-1zM148 486h1v1h-1zM150 486h1v1h-1zM151 486h1v1h-1zM152 486h1v1h-1zM154 486h1v1h-1zM150 487h1v1h-1zM151 487h1v1h-1zM152 487h1v1h-1zM156 487h1v1h-1zM157 487h1v1h-1zM144 488h1v1h-1zM148 488h1v1h-1zM152 488h1v1h-1zM154 488h1v1h-1zM144 489h1v1h-1zM149 489h1v1h-1zM150 489h1v1h-1zM152 489h1v1h-1zM154 489h1v1h-1zM147 490h1v1h-1zM152 490h1v1h-1zM148 491h1v1h-1zM149 491h1v1h-1zM153 481h1v1h-1zM154 481h1v1h-1zM153 482h1v1h-1zM154 482h1v1h-1zM155 482h1v1h-1zM153 483h1v1h-1zM154 483h1v1h-1zM155 483h1v1h-1zM153 484h1v1h-1zM154 484h1v1h-1zM155 484h1v1h-1zM153 485h1v1h-1zM155 485h1v1h-1zM156 485h1v1h-1zM154 486h1v1h-1zM154 487h1v1h-1zM155 487h1v1h-1zM177 473h1v1h-1zM178 473h1v1h-1zM181 474h1v1h-1zM180 475h1v1h-1zM176 476h1v1h-1zM177 476h1v1h-1zM176 477h1v1h-1zM187 457h1v1h-1zM190 458h1v1h-1zM187 461h1v1h-1zM188 461h1v1h-1zM187 462h1v1h-1zM193 462h1v1h-1zM192 463h1v1h-1zM187 464h1v1h-1zM191 464h1v1h-1zM192 464h1v1h-1zM193 464h1v1h-1zM193 465h1v1h-1zM186 466h1v1h-1zM187 468h1v1h-1zM191 468h1v1h-1zM192 468h1v1h-1zM217 452h1v1h-1zM207 454h1v1h-1zM216 456h1v1h-1zM201 457h1v1h-1zM208 457h1v1h-1zM217 457h1v1h-1zM219 457h1v1h-1zM204 459h1v1h-1zM211 459h1v1h-1zM216 459h1v1h-1zM218 459h1v1h-1zM212 460h1v1h-1zM214 460h1v1h-1zM217 460h1v1h-1zM209 461h1v1h-1zM227 449h1v1h-1zM211 451h1v1h-1zM214 451h1v1h-1zM223 452h1v1h-1zM235 452h1v1h-1zM211 453h1v1h-1zM212 453h1v1h-1zM210 454h1v1h-1zM217 454h1v1h-1zM226 454h1v1h-1zM229 454h1v1h-1zM238 454h1v1h-1zM239 455h1v1h-1zM232 456h1v1h-1zM234 456h1v1h-1zM191 458h1v1h-1zM191 459h1v1h-1zM194 462h1v1h-1zM191 463h1v1h-1zM192 463h1v1h-1zM191 464h1v1h-1zM191 465h1v1h-1zM195 465h1v1h-1zM196 465h1v1h-1zM191 466h1v1h-1zM193 466h1v1h-1zM195 466h1v1h-1zM190 467h1v1h-1zM244 442h1v1h-1zM246 442h1v1h-1zM247 442h1v1h-1zM244 443h1v1h-1zM245 443h1v1h-1zM247 443h1v1h-1zM249 443h1v1h-1zM252 443h1v1h-1zM253 443h1v1h-1zM241 444h1v1h-1zM243 444h1v1h-1zM244 444h1v1h-1zM246 444h1v1h-1zM248 444h1v1h-1zM249 444h1v1h-1zM250 444h1v1h-1zM251 444h1v1h-1zM252 444h1v1h-1zM253 444h1v1h-1zM241 445h1v1h-1zM243 445h1v1h-1zM244 445h1v1h-1zM245 445h1v1h-1zM246 445h1v1h-1zM247 445h1v1h-1zM251 445h1v1h-1zM252 445h1v1h-1zM253 445h1v1h-1zM244 446h1v1h-1zM245 446h1v1h-1zM248 446h1v1h-1zM249 446h1v1h-1zM250 446h1v1h-1zM252 446h1v1h-1zM254 446h1v1h-1zM243 447h1v1h-1zM244 447h1v1h-1zM245 447h1v1h-1zM246 447h1v1h-1zM247 447h1v1h-1zM250 447h1v1h-1zM254 447h1v1h-1zM241 448h1v1h-1zM246 448h1v1h-1zM247 448h1v1h-1zM248 448h1v1h-1zM250 448h1v1h-1zM253 448h1v1h-1zM254 448h1v1h-1zM241 449h1v1h-1zM242 449h1v1h-1zM243 449h1v1h-1zM244 449h1v1h-1zM247 449h1v1h-1zM248 449h1v1h-1zM251 449h1v1h-1zM252 449h1v1h-1zM241 450h1v1h-1zM242 450h1v1h-1zM243 450h1v1h-1zM244 450h1v1h-1zM245 450h1v1h-1zM246 450h1v1h-1zM248 450h1v1h-1zM249 450h1v1h-1zM250 450h1v1h-1zM251 450h1v1h-1zM252 450h1v1h-1zM253 450h1v1h-1zM241 451h1v1h-1zM242 451h1v1h-1zM243 451h1v1h-1zM245 451h1v1h-1zM246 451h1v1h-1zM247 451h1v1h-1zM248 451h1v1h-1zM249 451h1v1h-1zM250 451h1v1h-1zM253 451h1v1h-1zM254 451h1v1h-1zM255 451h1v1h-1zM242 452h1v1h-1zM247 452h1v1h-1zM248 452h1v1h-1zM249 452h1v1h-1zM250 452h1v1h-1zM251 452h1v1h-1zM252 452h1v1h-1zM253 452h1v1h-1zM255 452h1v1h-1zM244 453h1v1h-1zM245 453h1v1h-1zM246 453h1v1h-1zM247 453h1v1h-1zM249 453h1v1h-1zM250 453h1v1h-1zM251 453h1v1h-1zM253 453h1v1h-1zM254 453h1v1h-1zM255 453h1v1h-1zM243 454h1v1h-1zM246 454h1v1h-1zM247 454h1v1h-1zM248 454h1v1h-1zM249 454h1v1h-1zM253 454h1v1h-1zM243 455h1v1h-1zM245 455h1v1h-1zM246 455h1v1h-1zM249 455h1v1h-1zM250 455h1v1h-1zM251 455h1v1h-1zM253 455h1v1h-1zM254 455h1v1h-1zM255 455h1v1h-1zM256 455h1v1h-1zM244 456h1v1h-1zM245 456h1v1h-1zM246 456h1v1h-1zM247 456h1v1h-1zM248 456h1v1h-1zM249 456h1v1h-1zM251 456h1v1h-1zM252 456h1v1h-1zM254 456h1v1h-1zM247 457h1v1h-1zM248 457h1v1h-1zM249 457h1v1h-1zM252 457h1v1h-1zM253 457h1v1h-1zM254 457h1v1h-1zM256 457h1v1h-1zM248 458h1v1h-1zM249 458h1v1h-1zM250 458h1v1h-1zM251 458h1v1h-1zM253 458h1v1h-1zM254 458h1v1h-1zM256 458h1v1h-1zM257 458h1v1h-1zM250 459h1v1h-1zM251 459h1v1h-1zM253 459h1v1h-1zM254 459h1v1h-1zM255 459h1v1h-1zM256 459h1v1h-1zM258 459h1v1h-1zM253 460h1v1h-1zM255 460h1v1h-1zM256 460h1v1h-1zM257 460h1v1h-1zM258 460h1v1h-1zM253 461h1v1h-1zM254 461h1v1h-1zM255 461h1v1h-1zM259 461h1v1h-1zM255 462h1v1h-1zM257 462h1v1h-1zM259 462h1v1h-1zM258 463h1v1h-1zM286 447h1v1h-1zM283 449h1v1h-1zM284 449h1v1h-1zM284 451h1v1h-1zM285 451h1v1h-1zM287 452h1v1h-1zM286 453h1v1h-1zM287 453h1v1h-1zM301 441h1v1h-1zM301 442h1v1h-1zM301 443h1v1h-1zM303 443h1v1h-1zM304 444h1v1h-1zM304 445h1v1h-1zM303 446h1v1h-1zM304 446h1v1h-1zM302 447h1v1h-1zM303 448h1v1h-1zM305 448h1v1h-1zM306 449h1v1h-1zM305 450h1v1h-1zM364 449h1v1h-1zM361 450h1v1h-1zM362 450h1v1h-1zM367 450h1v1h-1zM357 451h1v1h-1zM367 451h1v1h-1zM360 452h1v1h-1zM365 452h1v1h-1zM369 452h1v1h-1zM370 452h1v1h-1zM358 453h1v1h-1zM360 453h1v1h-1zM362 453h1v1h-1zM363 453h1v1h-1zM365 453h1v1h-1zM371 453h1v1h-1zM372 453h1v1h-1zM360 454h1v1h-1zM362 454h1v1h-1zM364 454h1v1h-1zM365 454h1v1h-1zM369 454h1v1h-1zM371 454h1v1h-1zM373 454h1v1h-1zM360 455h1v1h-1zM363 455h1v1h-1zM368 455h1v1h-1zM373 455h1v1h-1zM375 455h1v1h-1zM361 456h1v1h-1zM366 456h1v1h-1zM367 457h1v1h-1zM369 457h1v1h-1zM375 457h1v1h-1zM376 457h1v1h-1zM377 457h1v1h-1zM366 458h1v1h-1zM373 458h1v1h-1zM364 459h1v1h-1zM376 459h1v1h-1zM370 460h1v1h-1zM371 460h1v1h-1zM377 460h1v1h-1zM366 461h1v1h-1zM373 461h1v1h-1zM377 461h1v1h-1zM367 462h1v1h-1zM369 462h1v1h-1zM374 462h1v1h-1zM373 463h1v1h-1zM373 464h1v1h-1zM384 451h1v1h-1zM387 451h1v1h-1zM391 451h1v1h-1zM392 451h1v1h-1zM394 451h1v1h-1zM385 452h1v1h-1zM389 452h1v1h-1zM390 452h1v1h-1zM393 452h1v1h-1zM396 452h1v1h-1zM384 453h1v1h-1zM385 453h1v1h-1zM387 453h1v1h-1zM392 453h1v1h-1zM393 454h1v1h-1zM398 454h1v1h-1zM385 455h1v1h-1zM386 455h1v1h-1zM388 455h1v1h-1zM389 455h1v1h-1zM392 455h1v1h-1zM396 455h1v1h-1zM388 456h1v1h-1zM389 456h1v1h-1zM391 456h1v1h-1zM393 456h1v1h-1zM394 456h1v1h-1zM395 456h1v1h-1zM396 456h1v1h-1zM386 457h1v1h-1zM387 457h1v1h-1zM391 457h1v1h-1zM392 457h1v1h-1zM393 457h1v1h-1zM395 457h1v1h-1zM399 457h1v1h-1zM394 458h1v1h-1zM397 458h1v1h-1zM384 452h1v1h-1zM386 452h1v1h-1zM387 453h1v1h-1zM390 453h1v1h-1zM396 453h1v1h-1zM383 454h1v1h-1zM390 454h1v1h-1zM391 454h1v1h-1zM393 454h1v1h-1zM395 454h1v1h-1zM396 454h1v1h-1zM397 454h1v1h-1zM386 455h1v1h-1zM389 455h1v1h-1zM390 455h1v1h-1zM392 455h1v1h-1zM394 455h1v1h-1zM395 455h1v1h-1zM382 456h1v1h-1zM386 456h1v1h-1zM390 456h1v1h-1zM393 456h1v1h-1zM395 456h1v1h-1zM382 457h1v1h-1zM384 457h1v1h-1zM389 457h1v1h-1zM394 457h1v1h-1zM399 457h1v1h-1zM394 458h1v1h-1zM395 458h1v1h-1zM398 458h1v1h-1zM400 458h1v1h-1zM411 459h1v1h-1zM414 459h1v1h-1zM399 460h1v1h-1zM401 460h1v1h-1zM402 460h1v1h-1zM407 460h1v1h-1zM412 460h1v1h-1zM414 460h1v1h-1zM400 461h1v1h-1zM405 461h1v1h-1zM406 461h1v1h-1zM412 461h1v1h-1zM413 461h1v1h-1zM401 462h1v1h-1zM404 462h1v1h-1zM406 462h1v1h-1zM410 462h1v1h-1zM412 462h1v1h-1zM413 462h1v1h-1zM401 463h1v1h-1zM405 463h1v1h-1zM411 463h1v1h-1zM413 463h1v1h-1zM402 464h1v1h-1zM403 464h1v1h-1zM406 464h1v1h-1zM408 464h1v1h-1zM410 464h1v1h-1zM403 465h1v1h-1zM404 465h1v1h-1zM407 465h1v1h-1zM405 466h1v1h-1zM409 466h1v1h-1zM410 466h1v1h-1zM405 467h1v1h-1zM407 467h1v1h-1zM408 467h1v1h-1zM409 467h1v1h-1zM406 469h1v1h-1zM410 469h1v1h-1zM407 470h1v1h-1zM411 470h1v1h-1zM411 472h1v1h-1zM415 472h1v1h-1zM412 473h1v1h-1zM414 473h1v1h-1zM415 473h1v1h-1zM411 474h1v1h-1zM417 475h1v1h-1zM418 476h1v1h-1zM415 477h1v1h-1zM416 477h1v1h-1zM418 478h1v1h-1zM418 479h1v1h-1zM415 480h1v1h-1zM416 480h1v1h-1zM418 481h1v1h-1zM417 482h1v1h-1zM416 483h1v1h-1zM417 483h1v1h-1zM417 484h1v1h-1zM418 493h1v1h-1zM418 494h1v1h-1zM417 495h1v1h-1zM421 496h1v1h-1zM420 497h1v1h-1zM422 497h1v1h-1zM415 498h1v1h-1zM418 498h1v1h-1zM417 501h1v1h-1zM421 507h1v1h-1zM425 508h1v1h-1zM431 510h1v1h-1zM428 511h1v1h-1zM424 512h1v1h-1zM430 514h1v1h-1zM429 515h1v1h-1zM426 521h1v1h-1zM428 522h1v1h-1zM428 524h1v1h-1zM431 440h1v1h-1zM435 440h1v1h-1zM431 441h1v1h-1zM433 441h1v1h-1zM437 442h1v1h-1zM431 443h1v1h-1zM434 443h1v1h-1zM439 444h1v1h-1zM439 447h1v1h-1zM432 448h1v1h-1zM434 449h1v1h-1zM432 450h1v1h-1zM433 450h1v1h-1zM435 451h1v1h-1zM433 452h1v1h-1zM438 453h1v1h-1zM436 454h1v1h-1zM435 455h1v1h-1zM433 456h1v1h-1zM432 458h1v1h-1zM436 459h1v1h-1zM433 460h1v1h-1zM433 463h1v1h-1zM434 465h1v1h-1zM435 465h1v1h-1zM434 466h1v1h-1zM435 466h1v1h-1zM433 470h1v1h-1zM433 471h1v1h-1zM436 473h1v1h-1zM435 475h1v1h-1zM438 477h1v1h-1zM436 478h1v1h-1zM440 477h1v1h-1zM442 477h1v1h-1zM440 478h1v1h-1zM444 478h1v1h-1zM442 479h1v1h-1zM439 480h1v1h-1zM443 480h1v1h-1zM441 481h1v1h-1zM442 481h1v1h-1zM443 481h1v1h-1zM448 478h1v1h-1zM446 479h1v1h-1zM448 479h1v1h-1zM446 480h1v1h-1zM448 480h1v1h-1zM449 480h1v1h-1zM445 481h1v1h-1zM446 481h1v1h-1zM447 481h1v1h-1zM448 481h1v1h-1zM448 483h1v1h-1zM449 483h1v1h-1zM450 483h1v1h-1zM447 484h1v1h-1zM448 484h1v1h-1zM447 485h1v1h-1zM448 486h1v1h-1zM449 486h1v1h-1zM451 486h1v1h-1zM449 487h1v1h-1zM450 487h1v1h-1zM452 487h1v1h-1zM449 488h1v1h-1zM451 488h1v1h-1zM449 489h1v1h-1zM449 490h1v1h-1zM450 490h1v1h-1zM451 490h1v1h-1zM453 490h1v1h-1zM450 491h1v1h-1zM453 491h1v1h-1zM450 492h1v1h-1zM451 493h1v1h-1zM452 493h1v1h-1zM453 493h1v1h-1zM451 494h1v1h-1zM452 494h1v1h-1zM455 494h1v1h-1zM452 495h1v1h-1zM454 495h1v1h-1zM455 495h1v1h-1zM452 496h1v1h-1zM453 496h1v1h-1zM454 496h1v1h-1zM455 496h1v1h-1zM452 497h1v1h-1zM453 497h1v1h-1zM456 497h1v1h-1zM453 498h1v1h-1zM454 498h1v1h-1zM455 498h1v1h-1zM456 498h1v1h-1zM454 499h1v1h-1zM456 499h1v1h-1zM453 500h1v1h-1zM455 500h1v1h-1zM457 500h1v1h-1zM457 501h1v1h-1zM458 501h1v1h-1zM454 502h1v1h-1zM456 502h1v1h-1zM458 502h1v1h-1zM455 503h1v1h-1zM456 503h1v1h-1zM457 503h1v1h-1zM455 504h1v1h-1zM457 504h1v1h-1zM458 504h1v1h-1zM459 504h1v1h-1zM455 505h1v1h-1zM457 505h1v1h-1zM459 505h1v1h-1zM457 506h1v1h-1zM459 506h1v1h-1zM460 506h1v1h-1zM456 507h1v1h-1zM457 507h1v1h-1zM458 507h1v1h-1zM460 507h1v1h-1zM457 508h1v1h-1zM459 508h1v1h-1zM460 508h1v1h-1zM461 508h1v1h-1zM457 509h1v1h-1zM458 509h1v1h-1zM460 509h1v1h-1zM458 510h1v1h-1zM461 510h1v1h-1zM462 510h1v1h-1zM459 511h1v1h-1zM460 511h1v1h-1zM461 511h1v1h-1zM460 512h1v1h-1zM461 512h1v1h-1zM462 512h1v1h-1zM463 512h1v1h-1zM461 513h1v1h-1zM462 513h1v1h-1zM463 513h1v1h-1zM462 514h1v1h-1zM448 509h1v1h-1zM449 509h1v1h-1zM451 509h1v1h-1zM443 510h1v1h-1zM444 510h1v1h-1zM445 510h1v1h-1zM446 510h1v1h-1zM450 510h1v1h-1zM452 510h1v1h-1zM453 510h1v1h-1zM454 510h1v1h-1zM456 510h1v1h-1zM457 510h1v1h-1zM458 510h1v1h-1zM460 510h1v1h-1zM461 510h1v1h-1zM443 511h1v1h-1zM444 511h1v1h-1zM445 511h1v1h-1zM446 511h1v1h-1zM447 511h1v1h-1zM448 511h1v1h-1zM449 511h1v1h-1zM451 511h1v1h-1zM452 511h1v1h-1zM453 511h1v1h-1zM454 511h1v1h-1zM455 511h1v1h-1zM456 511h1v1h-1zM457 511h1v1h-1zM458 511h1v1h-1zM459 511h1v1h-1zM460 511h1v1h-1zM461 511h1v1h-1zM462 511h1v1h-1zM442 512h1v1h-1zM443 512h1v1h-1zM444 512h1v1h-1zM446 512h1v1h-1zM448 512h1v1h-1zM450 512h1v1h-1zM451 512h1v1h-1zM452 512h1v1h-1zM454 512h1v1h-1zM455 512h1v1h-1zM456 512h1v1h-1zM457 512h1v1h-1zM458 512h1v1h-1zM459 512h1v1h-1zM460 512h1v1h-1zM461 512h1v1h-1zM442 513h1v1h-1zM443 513h1v1h-1zM444 513h1v1h-1zM446 513h1v1h-1zM447 513h1v1h-1zM448 513h1v1h-1zM450 513h1v1h-1zM452 513h1v1h-1zM453 513h1v1h-1zM454 513h1v1h-1zM455 513h1v1h-1zM457 513h1v1h-1zM458 513h1v1h-1zM460 513h1v1h-1zM461 513h1v1h-1zM462 513h1v1h-1zM441 514h1v1h-1zM442 514h1v1h-1zM443 514h1v1h-1zM444 514h1v1h-1zM445 514h1v1h-1zM446 514h1v1h-1zM447 514h1v1h-1zM448 514h1v1h-1zM449 514h1v1h-1zM450 514h1v1h-1zM451 514h1v1h-1zM452 514h1v1h-1zM453 514h1v1h-1zM454 514h1v1h-1zM456 514h1v1h-1zM457 514h1v1h-1zM458 514h1v1h-1zM459 514h1v1h-1zM461 514h1v1h-1zM462 514h1v1h-1zM463 514h1v1h-1zM440 515h1v1h-1zM441 515h1v1h-1zM442 515h1v1h-1zM444 515h1v1h-1zM447 515h1v1h-1zM449 515h1v1h-1zM450 515h1v1h-1zM452 515h1v1h-1zM453 515h1v1h-1zM454 515h1v1h-1zM455 515h1v1h-1zM458 515h1v1h-1zM459 515h1v1h-1zM460 515h1v1h-1zM461 515h1v1h-1zM462 515h1v1h-1zM463 515h1v1h-1zM439 516h1v1h-1zM440 516h1v1h-1zM441 516h1v1h-1zM442 516h1v1h-1zM443 516h1v1h-1zM446 516h1v1h-1zM447 516h1v1h-1zM449 516h1v1h-1zM450 516h1v1h-1zM451 516h1v1h-1zM452 516h1v1h-1zM453 516h1v1h-1zM454 516h1v1h-1zM455 516h1v1h-1zM456 516h1v1h-1zM457 516h1v1h-1zM458 516h1v1h-1zM459 516h1v1h-1zM460 516h1v1h-1zM461 516h1v1h-1zM462 516h1v1h-1zM463 516h1v1h-1zM464 516h1v1h-1zM437 517h1v1h-1zM438 517h1v1h-1zM439 517h1v1h-1zM440 517h1v1h-1zM442 517h1v1h-1zM443 517h1v1h-1zM444 517h1v1h-1zM446 517h1v1h-1zM447 517h1v1h-1zM450 517h1v1h-1zM451 517h1v1h-1zM452 517h1v1h-1zM453 517h1v1h-1zM454 517h1v1h-1zM455 517h1v1h-1zM456 517h1v1h-1zM457 517h1v1h-1zM458 517h1v1h-1zM459 517h1v1h-1zM460 517h1v1h-1zM461 517h1v1h-1zM462 517h1v1h-1zM463 517h1v1h-1zM464 517h1v1h-1zM436 518h1v1h-1zM437 518h1v1h-1zM438 518h1v1h-1zM439 518h1v1h-1zM440 518h1v1h-1zM441 518h1v1h-1zM442 518h1v1h-1zM443 518h1v1h-1zM444 518h1v1h-1zM445 518h1v1h-1zM447 518h1v1h-1zM448 518h1v1h-1zM449 518h1v1h-1zM450 518h1v1h-1zM451 518h1v1h-1zM453 518h1v1h-1zM454 518h1v1h-1zM455 518h1v1h-1zM456 518h1v1h-1zM457 518h1v1h-1zM458 518h1v1h-1zM459 518h1v1h-1zM461 518h1v1h-1zM462 518h1v1h-1zM463 518h1v1h-1zM464 518h1v1h-1zM434 519h1v1h-1zM435 519h1v1h-1zM436 519h1v1h-1zM437 519h1v1h-1zM438 519h1v1h-1zM439 519h1v1h-1zM440 519h1v1h-1zM441 519h1v1h-1zM442 519h1v1h-1zM443 519h1v1h-1zM445 519h1v1h-1zM446 519h1v1h-1zM449 519h1v1h-1zM450 519h1v1h-1zM451 519h1v1h-1zM452 519h1v1h-1zM453 519h1v1h-1zM454 519h1v1h-1zM455 519h1v1h-1zM456 519h1v1h-1zM457 519h1v1h-1zM458 519h1v1h-1zM459 519h1v1h-1zM460 519h1v1h-1zM461 519h1v1h-1zM462 519h1v1h-1zM463 519h1v1h-1zM464 519h1v1h-1zM432 520h1v1h-1zM433 520h1v1h-1zM434 520h1v1h-1zM436 520h1v1h-1zM437 520h1v1h-1zM438 520h1v1h-1zM439 520h1v1h-1zM440 520h1v1h-1zM441 520h1v1h-1zM442 520h1v1h-1zM443 520h1v1h-1zM444 520h1v1h-1zM445 520h1v1h-1zM446 520h1v1h-1zM447 520h1v1h-1zM448 520h1v1h-1zM449 520h1v1h-1zM450 520h1v1h-1zM451 520h1v1h-1zM452 520h1v1h-1zM453 520h1v1h-1zM454 520h1v1h-1zM455 520h1v1h-1zM456 520h1v1h-1zM457 520h1v1h-1zM458 520h1v1h-1zM459 520h1v1h-1zM460 520h1v1h-1zM461 520h1v1h-1zM462 520h1v1h-1zM463 520h1v1h-1zM464 520h1v1h-1zM432 521h1v1h-1zM433 521h1v1h-1zM434 521h1v1h-1zM435 521h1v1h-1zM436 521h1v1h-1zM437 521h1v1h-1zM438 521h1v1h-1zM440 521h1v1h-1zM441 521h1v1h-1zM442 521h1v1h-1zM443 521h1v1h-1zM444 521h1v1h-1zM445 521h1v1h-1zM446 521h1v1h-1zM447 521h1v1h-1zM448 521h1v1h-1zM450 521h1v1h-1zM451 521h1v1h-1zM452 521h1v1h-1zM453 521h1v1h-1zM454 521h1v1h-1zM455 521h1v1h-1zM456 521h1v1h-1zM457 521h1v1h-1zM458 521h1v1h-1zM459 521h1v1h-1zM462 521h1v1h-1zM463 521h1v1h-1zM464 521h1v1h-1zM432 522h1v1h-1zM433 522h1v1h-1zM434 522h1v1h-1zM435 522h1v1h-1zM436 522h1v1h-1zM437 522h1v1h-1zM438 522h1v1h-1zM439 522h1v1h-1zM440 522h1v1h-1zM441 522h1v1h-1zM442 522h1v1h-1zM443 522h1v1h-1zM444 522h1v1h-1zM445 522h1v1h-1zM446 522h1v1h-1zM447 522h1v1h-1zM448 522h1v1h-1zM449 522h1v1h-1zM450 522h1v1h-1zM453 522h1v1h-1zM454 522h1v1h-1zM455 522h1v1h-1zM456 522h1v1h-1zM457 522h1v1h-1zM458 522h1v1h-1zM461 522h1v1h-1zM462 522h1v1h-1zM463 522h1v1h-1zM464 522h1v1h-1zM432 523h1v1h-1zM433 523h1v1h-1zM434 523h1v1h-1zM435 523h1v1h-1zM436 523h1v1h-1zM437 523h1v1h-1zM438 523h1v1h-1zM440 523h1v1h-1zM441 523h1v1h-1zM442 523h1v1h-1zM443 523h1v1h-1zM444 523h1v1h-1zM445 523h1v1h-1zM446 523h1v1h-1zM447 523h1v1h-1zM448 523h1v1h-1zM449 523h1v1h-1zM450 523h1v1h-1zM451 523h1v1h-1zM452 523h1v1h-1zM453 523h1v1h-1zM454 523h1v1h-1zM455 523h1v1h-1zM457 523h1v1h-1zM458 523h1v1h-1zM459 523h1v1h-1zM462 523h1v1h-1zM464 523h1v1h-1zM432 524h1v1h-1zM433 524h1v1h-1zM434 524h1v1h-1zM435 524h1v1h-1zM436 524h1v1h-1zM437 524h1v1h-1zM439 524h1v1h-1zM440 524h1v1h-1zM441 524h1v1h-1zM442 524h1v1h-1zM443 524h1v1h-1zM444 524h1v1h-1zM446 524h1v1h-1zM448 524h1v1h-1zM449 524h1v1h-1zM450 524h1v1h-1zM451 524h1v1h-1zM452 524h1v1h-1zM453 524h1v1h-1zM454 524h1v1h-1zM456 524h1v1h-1zM457 524h1v1h-1zM458 524h1v1h-1zM459 524h1v1h-1zM462 524h1v1h-1zM463 524h1v1h-1zM464 524h1v1h-1zM433 525h1v1h-1zM434 525h1v1h-1zM435 525h1v1h-1zM436 525h1v1h-1zM437 525h1v1h-1zM438 525h1v1h-1zM439 525h1v1h-1zM441 525h1v1h-1zM442 525h1v1h-1zM444 525h1v1h-1zM445 525h1v1h-1zM447 525h1v1h-1zM449 525h1v1h-1zM450 525h1v1h-1zM451 525h1v1h-1zM452 525h1v1h-1zM453 525h1v1h-1zM454 525h1v1h-1zM455 525h1v1h-1zM456 525h1v1h-1zM457 525h1v1h-1zM458 525h1v1h-1zM459 525h1v1h-1zM460 525h1v1h-1zM461 525h1v1h-1zM462 525h1v1h-1zM464 525h1v1h-1zM434 526h1v1h-1zM435 526h1v1h-1zM436 526h1v1h-1zM437 526h1v1h-1zM439 526h1v1h-1zM440 526h1v1h-1zM441 526h1v1h-1zM442 526h1v1h-1zM443 526h1v1h-1zM445 526h1v1h-1zM446 526h1v1h-1zM447 526h1v1h-1zM448 526h1v1h-1zM449 526h1v1h-1zM450 526h1v1h-1zM451 526h1v1h-1zM452 526h1v1h-1zM453 526h1v1h-1zM454 526h1v1h-1zM455 526h1v1h-1zM456 526h1v1h-1zM457 526h1v1h-1zM458 526h1v1h-1zM459 526h1v1h-1zM461 526h1v1h-1zM462 526h1v1h-1zM464 526h1v1h-1zM434 527h1v1h-1zM435 527h1v1h-1zM437 527h1v1h-1zM438 527h1v1h-1zM439 527h1v1h-1zM440 527h1v1h-1zM441 527h1v1h-1zM442 527h1v1h-1zM443 527h1v1h-1zM445 527h1v1h-1zM446 527h1v1h-1zM447 527h1v1h-1zM448 527h1v1h-1zM450 527h1v1h-1zM451 527h1v1h-1zM453 527h1v1h-1zM454 527h1v1h-1zM455 527h1v1h-1zM456 527h1v1h-1zM457 527h1v1h-1zM458 527h1v1h-1zM459 527h1v1h-1zM460 527h1v1h-1zM461 527h1v1h-1zM462 527h1v1h-1zM463 527h1v1h-1zM464 527h1v1h-1zM433 528h1v1h-1zM434 528h1v1h-1zM437 528h1v1h-1zM438 528h1v1h-1zM439 528h1v1h-1zM441 528h1v1h-1zM442 528h1v1h-1zM443 528h1v1h-1zM444 528h1v1h-1zM445 528h1v1h-1zM446 528h1v1h-1zM447 528h1v1h-1zM448 528h1v1h-1zM449 528h1v1h-1zM452 528h1v1h-1zM453 528h1v1h-1zM454 528h1v1h-1zM456 528h1v1h-1zM457 528h1v1h-1zM459 528h1v1h-1zM461 528h1v1h-1zM462 528h1v1h-1zM463 528h1v1h-1zM436 529h1v1h-1zM438 529h1v1h-1zM439 529h1v1h-1zM440 529h1v1h-1zM441 529h1v1h-1zM442 529h1v1h-1zM443 529h1v1h-1zM444 529h1v1h-1zM445 529h1v1h-1zM446 529h1v1h-1zM447 529h1v1h-1zM448 529h1v1h-1zM449 529h1v1h-1zM450 529h1v1h-1zM451 529h1v1h-1zM452 529h1v1h-1zM453 529h1v1h-1zM454 529h1v1h-1zM455 529h1v1h-1zM456 529h1v1h-1zM457 529h1v1h-1zM458 529h1v1h-1zM460 529h1v1h-1zM461 529h1v1h-1zM462 529h1v1h-1zM463 529h1v1h-1zM464 529h1v1h-1zM434 530h1v1h-1zM435 530h1v1h-1zM436 530h1v1h-1zM438 530h1v1h-1zM440 530h1v1h-1zM441 530h1v1h-1zM442 530h1v1h-1zM443 530h1v1h-1zM444 530h1v1h-1zM445 530h1v1h-1zM446 530h1v1h-1zM447 530h1v1h-1zM449 530h1v1h-1zM450 530h1v1h-1zM451 530h1v1h-1zM452 530h1v1h-1zM453 530h1v1h-1zM454 530h1v1h-1zM455 530h1v1h-1zM456 530h1v1h-1zM457 530h1v1h-1zM458 530h1v1h-1zM459 530h1v1h-1zM460 530h1v1h-1zM461 530h1v1h-1zM462 530h1v1h-1zM463 530h1v1h-1zM464 530h1v1h-1zM434 531h1v1h-1zM436 531h1v1h-1zM438 531h1v1h-1zM439 531h1v1h-1zM440 531h1v1h-1zM441 531h1v1h-1zM442 531h1v1h-1zM443 531h1v1h-1zM444 531h1v1h-1zM446 531h1v1h-1zM447 531h1v1h-1zM448 531h1v1h-1zM449 531h1v1h-1zM450 531h1v1h-1zM451 531h1v1h-1zM452 531h1v1h-1zM454 531h1v1h-1zM455 531h1v1h-1zM456 531h1v1h-1zM457 531h1v1h-1zM458 531h1v1h-1zM459 531h1v1h-1zM461 531h1v1h-1zM462 531h1v1h-1zM463 531h1v1h-1zM464 531h1v1h-1zM434 532h1v1h-1zM435 532h1v1h-1zM437 532h1v1h-1zM438 532h1v1h-1zM440 532h1v1h-1zM441 532h1v1h-1zM442 532h1v1h-1zM443 532h1v1h-1zM445 532h1v1h-1zM446 532h1v1h-1zM447 532h1v1h-1zM448 532h1v1h-1zM450 532h1v1h-1zM451 532h1v1h-1zM452 532h1v1h-1zM453 532h1v1h-1zM454 532h1v1h-1zM455 532h1v1h-1zM457 532h1v1h-1zM458 532h1v1h-1zM460 532h1v1h-1zM461 532h1v1h-1zM462 532h1v1h-1zM463 532h1v1h-1zM436 533h1v1h-1zM437 533h1v1h-1zM438 533h1v1h-1zM439 533h1v1h-1zM440 533h1v1h-1zM441 533h1v1h-1zM443 533h1v1h-1zM444 533h1v1h-1zM445 533h1v1h-1zM446 533h1v1h-1zM447 533h1v1h-1zM448 533h1v1h-1zM449 533h1v1h-1zM450 533h1v1h-1zM451 533h1v1h-1zM452 533h1v1h-1zM453 533h1v1h-1zM454 533h1v1h-1zM455 533h1v1h-1zM456 533h1v1h-1zM457 533h1v1h-1zM458 533h1v1h-1zM461 533h1v1h-1zM463 533h1v1h-1zM439 534h1v1h-1zM448 534h1v1h-1zM449 534h1v1h-1zM451 534h1v1h-1zM452 534h1v1h-1zM454 534h1v1h-1zM455 534h1v1h-1zM457 534h1v1h-1zM458 534h1v1h-1zM459 534h1v1h-1zM460 534h1v1h-1zM461 534h1v1h-1zM462 534h1v1h-1zM463 534h1v1h-1zM454 535h1v1h-1zM455 535h1v1h-1zM456 535h1v1h-1zM457 535h1v1h-1zM459 535h1v1h-1zM461 535h1v1h-1zM462 535h1v1h-1zM459 536h1v1h-1zM460 536h1v1h-1zM429 510h1v1h-1zM430 510h1v1h-1zM431 510h1v1h-1zM431 511h1v1h-1zM431 512h1v1h-1zM430 516h1v1h-1zM431 516h1v1h-1zM430 517h1v1h-1zM430 518h1v1h-1zM479 386h1v1h-1zM480 392h1v1h-1zM469 394h1v1h-1zM470 394h1v1h-1zM466 395h1v1h-1zM467 395h1v1h-1zM472 395h1v1h-1zM477 395h1v1h-1zM473 396h1v1h-1zM468 398h1v1h-1zM469 398h1v1h-1zM470 399h1v1h-1zM467 400h1v1h-1zM473 400h1v1h-1zM465 401h1v1h-1zM459 402h1v1h-1zM460 403h1v1h-1zM465 403h1v1h-1zM453 404h1v1h-1zM464 404h1v1h-1zM465 404h1v1h-1zM455 407h1v1h-1zM457 407h1v1h-1zM455 409h1v1h-1zM458 409h1v1h-1zM445 410h1v1h-1zM456 410h1v1h-1zM454 411h1v1h-1zM461 411h1v1h-1zM459 412h1v1h-1zM452 415h1v1h-1zM445 418h1v1h-1zM439 419h1v1h-1zM449 419h1v1h-1zM451 419h1v1h-1zM437 420h1v1h-1zM448 422h1v1h-1zM436 425h1v1h-1zM435 428h1v1h-1zM438 428h1v1h-1zM440 429h1v1h-1zM438 430h1v1h-1zM505 369h1v1h-1zM504 370h1v1h-1zM502 373h1v1h-1zM502 374h1v1h-1zM502 375h1v1h-1zM504 375h1v1h-1zM493 377h1v1h-1zM508 377h1v1h-1zM497 378h1v1h-1zM502 378h1v1h-1zM506 378h1v1h-1zM502 379h1v1h-1zM491 380h1v1h-1zM498 382h1v1h-1zM484 385h1v1h-1zM487 385h1v1h-1zM490 385h1v1h-1zM494 385h1v1h-1zM488 386h1v1h-1zM484 390h1v1h-1zM524 340h1v1h-1zM526 340h1v1h-1zM521 342h1v1h-1zM525 342h1v1h-1zM516 344h1v1h-1zM520 345h1v1h-1zM512 346h1v1h-1zM515 346h1v1h-1zM517 346h1v1h-1zM521 347h1v1h-1zM511 348h1v1h-1zM528 348h1v1h-1zM517 351h1v1h-1zM512 354h1v1h-1zM513 355h1v1h-1zM511 356h1v1h-1zM521 356h1v1h-1zM522 356h1v1h-1zM529 356h1v1h-1zM510 357h1v1h-1zM512 357h1v1h-1zM515 358h1v1h-1zM509 359h1v1h-1zM511 359h1v1h-1zM521 359h1v1h-1zM525 359h1v1h-1zM516 361h1v1h-1zM522 361h1v1h-1zM525 361h1v1h-1zM507 363h1v1h-1zM521 363h1v1h-1zM515 365h1v1h-1zM523 365h1v1h-1zM514 366h1v1h-1zM520 366h1v1h-1zM523 366h1v1h-1zM513 367h1v1h-1zM515 367h1v1h-1zM521 367h1v1h-1zM519 368h1v1h-1zM524 368h1v1h-1zM526 370h1v1h-1zM514 371h1v1h-1zM520 371h1v1h-1zM514 373h1v1h-1zM509 374h1v1h-1zM538 328h1v1h-1zM532 331h1v1h-1zM535 331h1v1h-1zM533 332h1v1h-1zM525 333h1v1h-1zM542 333h1v1h-1zM524 334h1v1h-1zM526 335h1v1h-1zM528 335h1v1h-1zM532 336h1v1h-1zM538 338h1v1h-1zM541 338h1v1h-1zM528 339h1v1h-1zM537 339h1v1h-1zM538 339h1v1h-1zM527 341h1v1h-1zM539 341h1v1h-1zM541 341h1v1h-1zM529 342h1v1h-1zM541 342h1v1h-1zM534 343h1v1h-1zM536 343h1v1h-1zM533 343h1v1h-1zM531 344h1v1h-1zM539 345h1v1h-1zM531 346h1v1h-1zM545 347h1v1h-1zM534 348h1v1h-1zM543 348h1v1h-1zM547 348h1v1h-1zM547 351h1v1h-1zM549 351h1v1h-1zM529 352h1v1h-1zM541 352h1v1h-1zM546 352h1v1h-1zM540 353h1v1h-1zM548 353h1v1h-1zM533 354h1v1h-1zM541 354h1v1h-1zM528 355h1v1h-1zM545 356h1v1h-1zM532 358h1v1h-1zM540 358h1v1h-1zM542 358h1v1h-1zM546 358h1v1h-1zM533 359h1v1h-1zM537 359h1v1h-1zM536 360h1v1h-1zM528 363h1v1h-1zM556 277h1v1h-1zM547 278h1v1h-1zM547 282h1v1h-1zM544 284h1v1h-1zM545 284h1v1h-1zM555 284h1v1h-1zM542 286h1v1h-1zM551 288h1v1h-1zM548 290h1v1h-1zM547 297h1v1h-1zM550 271h1v1h-1zM543 272h1v1h-1zM555 272h1v1h-1zM559 272h1v1h-1zM560 272h1v1h-1zM544 273h1v1h-1zM548 273h1v1h-1zM561 274h1v1h-1zM562 274h1v1h-1zM549 277h1v1h-1zM560 277h1v1h-1zM551 272h1v1h-1zM546 273h1v1h-1zM550 273h1v1h-1zM549 276h1v1h-1zM552 277h1v1h-1zM556 279h1v1h-1zM545 280h1v1h-1zM557 280h1v1h-1zM543 282h1v1h-1zM544 282h1v1h-1zM543 285h1v1h-1zM555 285h1v1h-1zM542 286h1v1h-1zM547 286h1v1h-1zM551 287h1v1h-1zM555 289h1v1h-1zM546 290h1v1h-1zM550 291h1v1h-1zM548 292h1v1h-1zM540 293h1v1h-1zM547 293h1v1h-1zM550 293h1v1h-1zM542 294h1v1h-1zM549 296h1v1h-1zM554 297h1v1h-1zM556 297h1v1h-1zM544 298h1v1h-1zM552 298h1v1h-1zM545 300h1v1h-1zM550 300h1v1h-1zM542 301h1v1h-1zM541 303h1v1h-1zM540 305h1v1h-1zM545 305h1v1h-1zM544 306h1v1h-1zM542 307h1v1h-1zM551 307h1v1h-1zM540 311h1v1h-1zM601 246h1v1h-1zM600 248h1v1h-1zM602 248h1v1h-1zM585 249h1v1h-1zM586 249h1v1h-1zM582 250h1v1h-1zM578 251h1v1h-1zM585 251h1v1h-1zM577 252h1v1h-1zM586 252h1v1h-1zM603 252h1v1h-1zM594 253h1v1h-1zM598 253h1v1h-1zM595 254h1v1h-1zM598 254h1v1h-1zM573 255h1v1h-1zM579 256h1v1h-1zM580 258h1v1h-1zM572 261h1v1h-1zM574 262h1v1h-1zM572 263h1v1h-1zM637 216h1v1h-1zM634 218h1v1h-1zM639 219h1v1h-1zM636 220h1v1h-1zM631 228h1v1h-1zM636 230h1v1h-1zM627 232h1v1h-1zM633 232h1v1h-1zM637 234h1v1h-1zM625 236h1v1h-1zM627 237h1v1h-1zM633 238h1v1h-1zM635 240h1v1h-1zM639 241h1v1h-1z"/>
<path fill="#FFF500" d="M137 541h1v1h-1zM138 541h1v1h-1zM134 542h1v1h-1zM136 542h1v1h-1zM134 543h1v1h-1zM136 543h1v1h-1zM133 544h1v1h-1zM140 544h1v1h-1zM135 545h1v1h-1zM136 545h1v1h-1zM137 545h1v1h-1zM138 545h1v1h-1zM138 546h1v1h-1zM139 546h1v1h-1zM133 547h1v1h-1zM134 547h1v1h-1zM134 548h1v1h-1zM134 549h1v1h-1zM163 483h1v1h-1zM158 486h1v1h-1zM155 488h1v1h-1zM154 489h1v1h-1zM147 491h1v1h-1zM152 491h1v1h-1zM147 492h1v1h-1zM150 493h1v1h-1zM143 494h1v1h-1zM145 494h1v1h-1zM145 496h1v1h-1zM142 497h1v1h-1zM141 499h1v1h-1zM140 500h1v1h-1zM188 457h1v1h-1zM185 458h1v1h-1zM184 459h1v1h-1zM188 460h1v1h-1zM191 460h1v1h-1zM191 463h1v1h-1zM193 463h1v1h-1zM188 464h1v1h-1zM188 466h1v1h-1zM193 466h1v1h-1zM194 466h1v1h-1zM210 452h1v1h-1zM216 452h1v1h-1zM212 453h1v1h-1zM216 453h1v1h-1zM217 453h1v1h-1zM218 453h1v1h-1zM210 454h1v1h-1zM220 454h1v1h-1zM204 455h1v1h-1zM211 455h1v1h-1zM217 455h1v1h-1zM220 455h1v1h-1zM221 455h1v1h-1zM205 456h1v1h-1zM209 456h1v1h-1zM211 456h1v1h-1zM202 457h1v1h-1zM212 457h1v1h-1zM214 457h1v1h-1zM211 458h1v1h-1zM218 458h1v1h-1zM210 459h1v1h-1zM214 459h1v1h-1zM215 459h1v1h-1zM220 459h1v1h-1zM221 460h1v1h-1zM208 462h1v1h-1zM203 463h1v1h-1zM208 463h1v1h-1zM209 463h1v1h-1zM203 464h1v1h-1zM212 456h1v1h-1zM227 456h1v1h-1zM207 457h1v1h-1zM210 457h1v1h-1zM212 457h1v1h-1zM217 457h1v1h-1zM222 457h1v1h-1zM227 457h1v1h-1zM208 458h1v1h-1zM210 458h1v1h-1zM225 458h1v1h-1zM226 458h1v1h-1zM230 458h1v1h-1zM232 458h1v1h-1zM208 459h1v1h-1zM222 459h1v1h-1zM223 459h1v1h-1zM203 460h1v1h-1zM208 460h1v1h-1zM210 460h1v1h-1zM213 460h1v1h-1zM219 460h1v1h-1zM224 460h1v1h-1zM226 460h1v1h-1zM237 460h1v1h-1zM240 460h1v1h-1zM210 461h1v1h-1zM220 461h1v1h-1zM237 461h1v1h-1zM242 461h1v1h-1zM243 461h1v1h-1zM203 462h1v1h-1zM204 462h1v1h-1zM206 462h1v1h-1zM207 462h1v1h-1zM218 462h1v1h-1zM219 462h1v1h-1zM221 462h1v1h-1zM239 462h1v1h-1zM241 462h1v1h-1zM243 462h1v1h-1zM229 463h1v1h-1zM230 463h1v1h-1zM231 463h1v1h-1zM237 463h1v1h-1zM240 463h1v1h-1zM248 463h1v1h-1zM249 463h1v1h-1zM232 464h1v1h-1zM240 464h1v1h-1zM246 464h1v1h-1zM249 464h1v1h-1zM237 465h1v1h-1zM241 465h1v1h-1zM246 465h1v1h-1zM248 465h1v1h-1zM242 466h1v1h-1zM245 466h1v1h-1zM248 466h1v1h-1zM249 467h1v1h-1zM248 468h1v1h-1zM251 469h1v1h-1zM190 459h1v1h-1zM192 461h1v1h-1zM193 461h1v1h-1zM190 462h1v1h-1zM193 465h1v1h-1zM194 465h1v1h-1zM271 450h1v1h-1zM267 451h1v1h-1zM268 451h1v1h-1zM269 451h1v1h-1zM274 451h1v1h-1zM277 452h1v1h-1zM267 453h1v1h-1zM268 453h1v1h-1zM271 453h1v1h-1zM275 453h1v1h-1zM279 453h1v1h-1zM268 454h1v1h-1zM270 454h1v1h-1zM262 455h1v1h-1zM264 455h1v1h-1zM267 455h1v1h-1zM276 455h1v1h-1zM277 455h1v1h-1zM294 455h1v1h-1zM275 456h1v1h-1zM280 456h1v1h-1zM287 456h1v1h-1zM291 456h1v1h-1zM292 456h1v1h-1zM265 457h1v1h-1zM270 457h1v1h-1zM275 457h1v1h-1zM284 457h1v1h-1zM285 457h1v1h-1zM287 457h1v1h-1zM288 457h1v1h-1zM289 457h1v1h-1zM294 457h1v1h-1zM262 458h1v1h-1zM267 458h1v1h-1zM269 458h1v1h-1zM275 458h1v1h-1zM282 458h1v1h-1zM269 459h1v1h-1zM271 459h1v1h-1zM275 459h1v1h-1zM279 459h1v1h-1zM280 459h1v1h-1zM284 459h1v1h-1zM287 459h1v1h-1zM290 459h1v1h-1zM292 459h1v1h-1zM262 460h1v1h-1zM266 460h1v1h-1zM276 460h1v1h-1zM286 460h1v1h-1zM264 461h1v1h-1zM265 461h1v1h-1zM269 461h1v1h-1zM274 461h1v1h-1zM277 461h1v1h-1zM285 461h1v1h-1zM287 461h1v1h-1zM266 462h1v1h-1zM267 462h1v1h-1zM271 462h1v1h-1zM272 462h1v1h-1zM273 462h1v1h-1zM274 462h1v1h-1zM277 462h1v1h-1zM280 462h1v1h-1zM288 462h1v1h-1zM292 462h1v1h-1zM263 463h1v1h-1zM265 463h1v1h-1zM270 463h1v1h-1zM276 463h1v1h-1zM285 463h1v1h-1zM290 463h1v1h-1zM292 463h1v1h-1zM269 464h1v1h-1zM274 464h1v1h-1zM285 464h1v1h-1zM291 464h1v1h-1zM266 465h1v1h-1zM270 465h1v1h-1zM272 465h1v1h-1zM275 465h1v1h-1zM279 465h1v1h-1zM280 465h1v1h-1zM281 465h1v1h-1zM284 465h1v1h-1zM288 465h1v1h-1zM291 465h1v1h-1zM293 465h1v1h-1zM271 466h1v1h-1zM272 466h1v1h-1zM276 466h1v1h-1zM280 466h1v1h-1zM285 466h1v1h-1zM265 467h1v1h-1zM274 467h1v1h-1zM277 467h1v1h-1zM279 467h1v1h-1zM282 467h1v1h-1zM283 467h1v1h-1zM285 467h1v1h-1zM287 467h1v1h-1zM275 468h1v1h-1zM280 468h1v1h-1zM281 468h1v1h-1zM267 469h1v1h-1zM278 469h1v1h-1zM279 469h1v1h-1zM282 469h1v1h-1zM290 469h1v1h-1zM291 469h1v1h-1zM268 470h1v1h-1zM271 470h1v1h-1zM278 470h1v1h-1zM281 470h1v1h-1zM283 470h1v1h-1zM289 470h1v1h-1zM292 470h1v1h-1zM269 471h1v1h-1zM273 471h1v1h-1zM275 471h1v1h-1zM278 471h1v1h-1zM290 471h1v1h-1zM269 472h1v1h-1zM274 472h1v1h-1zM276 472h1v1h-1zM279 472h1v1h-1zM285 472h1v1h-1zM289 472h1v1h-1zM290 472h1v1h-1zM291 472h1v1h-1zM293 472h1v1h-1zM272 473h1v1h-1zM288 473h1v1h-1zM290 473h1v1h-1zM294 473h1v1h-1zM295 473h1v1h-1zM290 474h1v1h-1zM295 474h1v1h-1zM292 475h1v1h-1zM293 475h1v1h-1zM293 476h1v1h-1zM440 535h1v1h-1zM444 535h1v1h-1zM441 537h1v1h-1zM443 537h1v1h-1zM443 539h1v1h-1zM448 539h1v1h-1zM444 541h1v1h-1zM445 543h1v1h-1zM448 543h1v1h-1zM447 544h1v1h-1z"/>
<path fill="#DCFF23" d="M133 542h1v1h-1zM135 542h1v1h-1zM137 542h1v1h-1zM135 543h1v1h-1zM138 543h1v1h-1zM140 543h1v1h-1zM133 545h1v1h-1zM134 545h1v1h-1zM133 546h1v1h-1zM137 546h1v1h-1zM138 547h1v1h-1zM133 549h1v1h-1zM136 549h1v1h-1zM135 550h1v1h-1zM136 550h1v1h-1zM140 496h1v1h-1zM138 499h1v1h-1zM139 499h1v1h-1zM141 499h1v1h-1zM143 499h1v1h-1zM134 501h1v1h-1zM137 501h1v1h-1zM133 502h1v1h-1zM134 502h1v1h-1zM139 503h1v1h-1zM134 504h1v1h-1zM133 505h1v1h-1zM132 506h1v1h-1zM137 507h1v1h-1zM140 507h1v1h-1zM135 508h1v1h-1zM138 510h1v1h-1zM133 511h1v1h-1zM137 511h1v1h-1zM134 512h1v1h-1zM136 512h1v1h-1zM139 512h1v1h-1zM138 513h1v1h-1zM161 484h1v1h-1zM162 484h1v1h-1zM163 484h1v1h-1zM159 485h1v1h-1zM161 485h1v1h-1zM162 485h1v1h-1zM157 486h1v1h-1zM153 488h1v1h-1zM158 488h1v1h-1zM151 489h1v1h-1zM153 489h1v1h-1zM155 489h1v1h-1zM156 489h1v1h-1zM151 490h1v1h-1zM153 490h1v1h-1zM148 491h1v1h-1zM149 491h1v1h-1zM150 491h1v1h-1zM153 491h1v1h-1zM148 492h1v1h-1zM149 492h1v1h-1zM150 492h1v1h-1zM151 492h1v1h-1zM144 493h1v1h-1zM145 493h1v1h-1zM146 493h1v1h-1zM146 494h1v1h-1zM147 494h1v1h-1zM148 494h1v1h-1zM144 495h1v1h-1zM142 496h1v1h-1zM143 496h1v1h-1zM144 496h1v1h-1zM142 498h1v1h-1zM143 498h1v1h-1zM143 499h1v1h-1zM141 501h1v1h-1zM213 452h1v1h-1zM215 452h1v1h-1zM209 454h1v1h-1zM215 454h1v1h-1zM210 455h1v1h-1zM221 457h1v1h-1zM209 458h1v1h-1zM215 458h1v1h-1zM201 459h1v1h-1zM217 459h1v1h-1zM216 460h1v1h-1zM220 460h1v1h-1zM204 461h1v1h-1zM206 461h1v1h-1zM211 461h1v1h-1zM212 461h1v1h-1zM218 461h1v1h-1zM220 461h1v1h-1zM210 462h1v1h-1zM206 463h1v1h-1zM210 463h1v1h-1zM211 456h1v1h-1zM215 456h1v1h-1zM226 456h1v1h-1zM209 457h1v1h-1zM218 457h1v1h-1zM220 457h1v1h-1zM221 457h1v1h-1zM226 457h1v1h-1zM205 458h1v1h-1zM212 458h1v1h-1zM213 458h1v1h-1zM215 458h1v1h-1zM222 458h1v1h-1zM228 458h1v1h-1zM231 458h1v1h-1zM217 459h1v1h-1zM219 459h1v1h-1zM214 460h1v1h-1zM229 460h1v1h-1zM231 460h1v1h-1zM239 460h1v1h-1zM203 461h1v1h-1zM215 461h1v1h-1zM219 461h1v1h-1zM234 461h1v1h-1zM236 461h1v1h-1zM216 462h1v1h-1zM223 463h1v1h-1zM228 463h1v1h-1zM247 463h1v1h-1zM229 464h1v1h-1zM234 464h1v1h-1zM243 465h1v1h-1zM238 466h1v1h-1zM241 466h1v1h-1zM246 466h1v1h-1zM247 467h1v1h-1zM250 467h1v1h-1zM251 468h1v1h-1zM192 460h1v1h-1zM194 461h1v1h-1zM191 462h1v1h-1zM190 464h1v1h-1zM192 464h1v1h-1zM196 464h1v1h-1zM190 465h1v1h-1zM266 450h1v1h-1zM265 451h1v1h-1zM271 451h1v1h-1zM267 452h1v1h-1zM270 452h1v1h-1zM275 452h1v1h-1zM270 453h1v1h-1zM272 453h1v1h-1zM273 453h1v1h-1zM264 454h1v1h-1zM276 454h1v1h-1zM281 454h1v1h-1zM282 454h1v1h-1zM285 454h1v1h-1zM287 454h1v1h-1zM292 454h1v1h-1zM274 455h1v1h-1zM287 455h1v1h-1zM263 456h1v1h-1zM269 456h1v1h-1zM286 456h1v1h-1zM266 457h1v1h-1zM283 457h1v1h-1zM273 458h1v1h-1zM274 458h1v1h-1zM279 458h1v1h-1zM294 458h1v1h-1zM277 459h1v1h-1zM278 459h1v1h-1zM263 460h1v1h-1zM275 460h1v1h-1zM291 460h1v1h-1zM263 461h1v1h-1zM280 461h1v1h-1zM291 461h1v1h-1zM276 462h1v1h-1zM285 462h1v1h-1zM272 463h1v1h-1zM278 463h1v1h-1zM284 463h1v1h-1zM287 463h1v1h-1zM271 464h1v1h-1zM280 464h1v1h-1zM294 464h1v1h-1zM274 465h1v1h-1zM277 465h1v1h-1zM290 465h1v1h-1zM280 467h1v1h-1zM284 467h1v1h-1zM265 468h1v1h-1zM269 468h1v1h-1zM271 468h1v1h-1zM277 468h1v1h-1zM283 468h1v1h-1zM281 469h1v1h-1zM286 469h1v1h-1zM289 469h1v1h-1zM282 470h1v1h-1zM284 470h1v1h-1zM268 471h1v1h-1zM283 471h1v1h-1zM286 472h1v1h-1zM271 473h1v1h-1zM288 474h1v1h-1zM289 474h1v1h-1zM292 474h1v1h-1zM295 475h1v1h-1zM291 476h1v1h-1z"/>
<path fill="#FFCE00" d="M135 547h1v1h-1zM139 547h1v1h-1zM135 548h1v1h-1zM211 452h1v1h-1zM212 452h1v1h-1zM210 453h1v1h-1zM219 453h1v1h-1zM214 454h1v1h-1zM219 454h1v1h-1zM221 454h1v1h-1zM214 455h1v1h-1zM219 455h1v1h-1zM206 456h1v1h-1zM214 456h1v1h-1zM215 456h1v1h-1zM219 456h1v1h-1zM220 456h1v1h-1zM215 457h1v1h-1zM201 458h1v1h-1zM202 458h1v1h-1zM206 458h1v1h-1zM210 458h1v1h-1zM214 458h1v1h-1zM219 458h1v1h-1zM202 459h1v1h-1zM208 459h1v1h-1zM219 459h1v1h-1zM202 460h1v1h-1zM205 460h1v1h-1zM207 460h1v1h-1zM218 460h1v1h-1zM205 461h1v1h-1zM207 461h1v1h-1zM208 461h1v1h-1zM210 461h1v1h-1zM213 461h1v1h-1zM215 461h1v1h-1zM219 461h1v1h-1zM203 462h1v1h-1zM213 462h1v1h-1zM216 462h1v1h-1zM219 462h1v1h-1zM205 463h1v1h-1zM202 464h1v1h-1zM204 464h1v1h-1zM213 455h1v1h-1zM209 456h1v1h-1zM217 456h1v1h-1zM213 457h1v1h-1zM215 457h1v1h-1zM223 457h1v1h-1zM224 457h1v1h-1zM225 457h1v1h-1zM230 457h1v1h-1zM231 457h1v1h-1zM206 458h1v1h-1zM207 458h1v1h-1zM209 458h1v1h-1zM211 458h1v1h-1zM214 458h1v1h-1zM217 458h1v1h-1zM219 458h1v1h-1zM220 458h1v1h-1zM221 458h1v1h-1zM227 458h1v1h-1zM204 459h1v1h-1zM206 459h1v1h-1zM209 459h1v1h-1zM210 459h1v1h-1zM212 459h1v1h-1zM215 459h1v1h-1zM216 459h1v1h-1zM221 459h1v1h-1zM224 459h1v1h-1zM228 459h1v1h-1zM234 459h1v1h-1zM235 459h1v1h-1zM236 459h1v1h-1zM237 459h1v1h-1zM216 460h1v1h-1zM218 460h1v1h-1zM220 460h1v1h-1zM227 460h1v1h-1zM202 461h1v1h-1zM204 461h1v1h-1zM206 461h1v1h-1zM207 461h1v1h-1zM208 461h1v1h-1zM211 461h1v1h-1zM212 461h1v1h-1zM213 461h1v1h-1zM218 461h1v1h-1zM224 461h1v1h-1zM228 461h1v1h-1zM229 461h1v1h-1zM230 461h1v1h-1zM231 461h1v1h-1zM238 461h1v1h-1zM239 461h1v1h-1zM241 461h1v1h-1zM202 462h1v1h-1zM217 462h1v1h-1zM224 462h1v1h-1zM226 462h1v1h-1zM228 462h1v1h-1zM229 462h1v1h-1zM230 462h1v1h-1zM233 462h1v1h-1zM237 462h1v1h-1zM244 462h1v1h-1zM222 463h1v1h-1zM224 463h1v1h-1zM233 463h1v1h-1zM235 463h1v1h-1zM236 463h1v1h-1zM242 463h1v1h-1zM227 464h1v1h-1zM231 464h1v1h-1zM235 464h1v1h-1zM238 464h1v1h-1zM239 464h1v1h-1zM243 464h1v1h-1zM244 464h1v1h-1zM245 464h1v1h-1zM248 464h1v1h-1zM250 464h1v1h-1zM234 465h1v1h-1zM236 465h1v1h-1zM242 465h1v1h-1zM244 465h1v1h-1zM245 465h1v1h-1zM247 465h1v1h-1zM240 466h1v1h-1zM249 466h1v1h-1zM251 467h1v1h-1zM249 462h1v1h-1zM250 462h1v1h-1zM251 463h1v1h-1zM249 465h1v1h-1zM252 466h1v1h-1zM253 467h1v1h-1zM258 467h1v1h-1zM262 467h1v1h-1zM261 468h1v1h-1zM263 468h1v1h-1zM264 468h1v1h-1zM265 470h1v1h-1zM266 470h1v1h-1zM260 471h1v1h-1zM264 450h1v1h-1zM268 450h1v1h-1zM269 450h1v1h-1zM264 451h1v1h-1zM270 451h1v1h-1zM272 451h1v1h-1zM273 451h1v1h-1zM265 452h1v1h-1zM271 452h1v1h-1zM272 452h1v1h-1zM273 452h1v1h-1zM278 452h1v1h-1zM280 452h1v1h-1zM263 453h1v1h-1zM265 453h1v1h-1zM276 453h1v1h-1zM280 453h1v1h-1zM281 453h1v1h-1zM280 454h1v1h-1zM284 454h1v1h-1zM288 454h1v1h-1zM263 455h1v1h-1zM269 455h1v1h-1zM273 455h1v1h-1zM288 455h1v1h-1zM290 455h1v1h-1zM262 456h1v1h-1zM272 456h1v1h-1zM276 456h1v1h-1zM288 456h1v1h-1zM262 457h1v1h-1zM268 457h1v1h-1zM271 457h1v1h-1zM278 457h1v1h-1zM264 458h1v1h-1zM266 458h1v1h-1zM268 458h1v1h-1zM272 458h1v1h-1zM281 458h1v1h-1zM285 458h1v1h-1zM288 458h1v1h-1zM293 458h1v1h-1zM263 459h1v1h-1zM264 459h1v1h-1zM268 459h1v1h-1zM270 459h1v1h-1zM273 459h1v1h-1zM282 459h1v1h-1zM283 459h1v1h-1zM285 459h1v1h-1zM286 459h1v1h-1zM289 459h1v1h-1zM293 459h1v1h-1zM267 460h1v1h-1zM269 460h1v1h-1zM271 460h1v1h-1zM274 460h1v1h-1zM278 460h1v1h-1zM281 460h1v1h-1zM282 460h1v1h-1zM284 460h1v1h-1zM289 460h1v1h-1zM294 460h1v1h-1zM267 461h1v1h-1zM271 461h1v1h-1zM273 461h1v1h-1zM275 461h1v1h-1zM276 461h1v1h-1zM279 461h1v1h-1zM286 461h1v1h-1zM290 461h1v1h-1zM294 461h1v1h-1zM264 462h1v1h-1zM275 462h1v1h-1zM278 462h1v1h-1zM284 462h1v1h-1zM287 462h1v1h-1zM291 462h1v1h-1zM264 463h1v1h-1zM267 463h1v1h-1zM275 463h1v1h-1zM263 464h1v1h-1zM268 464h1v1h-1zM270 464h1v1h-1zM272 464h1v1h-1zM273 464h1v1h-1zM277 464h1v1h-1zM278 464h1v1h-1zM282 464h1v1h-1zM283 464h1v1h-1zM287 464h1v1h-1zM267 465h1v1h-1zM268 465h1v1h-1zM269 465h1v1h-1zM271 465h1v1h-1zM276 465h1v1h-1zM278 465h1v1h-1zM269 466h1v1h-1zM270 466h1v1h-1zM275 466h1v1h-1zM284 466h1v1h-1zM287 466h1v1h-1zM288 466h1v1h-1zM290 466h1v1h-1zM292 466h1v1h-1zM275 467h1v1h-1zM266 468h1v1h-1zM270 468h1v1h-1zM276 468h1v1h-1zM279 468h1v1h-1zM282 468h1v1h-1zM270 469h1v1h-1zM275 469h1v1h-1zM276 469h1v1h-1zM284 469h1v1h-1zM270 470h1v1h-1zM273 470h1v1h-1zM276 470h1v1h-1zM276 471h1v1h-1zM277 471h1v1h-1zM280 471h1v1h-1zM281 471h1v1h-1zM292 471h1v1h-1zM270 472h1v1h-1zM284 472h1v1h-1zM269 473h1v1h-1zM289 473h1v1h-1zM296 474h1v1h-1zM289 475h1v1h-1zM294 475h1v1h-1zM292 476h1v1h-1zM338 447h1v1h-1zM342 447h1v1h-1zM326 448h1v1h-1zM447 476h1v1h-1zM446 482h1v1h-1zM450 488h1v1h-1zM454 494h1v1h-1zM451 495h1v1h-1zM457 502h1v1h-1zM454 503h1v1h-1zM456 504h1v1h-1zM459 509h1v1h-1zM459 510h1v1h-1zM439 533h1v1h-1zM443 535h1v1h-1zM445 535h1v1h-1zM441 536h1v1h-1zM443 536h1v1h-1zM446 536h1v1h-1zM446 537h1v1h-1zM442 538h1v1h-1zM443 538h1v1h-1zM444 538h1v1h-1zM448 538h1v1h-1zM444 539h1v1h-1zM447 539h1v1h-1zM443 540h1v1h-1zM447 542h1v1h-1zM449 542h1v1h-1zM446 543h1v1h-1zM446 544h1v1h-1zM449 544h1v1h-1zM447 545h1v1h-1zM449 545h1v1h-1zM545 344h1v1h-1zM540 351h1v1h-1zM529 354h1v1h-1zM544 355h1v1h-1zM543 357h1v1h-1zM535 360h1v1h-1z"/>
<path fill="#fff" d="M141 496h1v1h-1zM142 496h1v1h-1zM140 497h1v1h-1zM139 498h1v1h-1zM145 499h1v1h-1zM131 502h1v1h-1zM143 503h1v1h-1zM131 504h1v1h-1zM133 504h1v1h-1zM135 504h1v1h-1zM139 504h1v1h-1zM142 504h1v1h-1zM139 505h1v1h-1zM132 507h1v1h-1zM136 507h1v1h-1zM141 507h1v1h-1zM136 508h1v1h-1zM140 508h1v1h-1zM141 508h1v1h-1zM134 509h1v1h-1zM138 509h1v1h-1zM140 509h1v1h-1zM139 510h1v1h-1zM134 511h1v1h-1zM135 511h1v1h-1zM136 511h1v1h-1zM137 514h1v1h-1zM163 485h1v1h-1zM155 487h1v1h-1zM158 487h1v1h-1zM157 488h1v1h-1zM154 490h1v1h-1zM147 493h1v1h-1zM144 494h1v1h-1zM145 495h1v1h-1zM146 495h1v1h-1zM142 499h1v1h-1zM211 455h1v1h-1zM227 459h1v1h-1zM205 460h1v1h-1zM207 460h1v1h-1zM230 460h1v1h-1zM235 460h1v1h-1zM238 460h1v1h-1zM214 461h1v1h-1zM216 461h1v1h-1zM205 462h1v1h-1zM222 462h1v1h-1zM245 462h1v1h-1zM226 463h1v1h-1zM241 464h1v1h-1zM233 465h1v1h-1zM250 465h1v1h-1zM250 466h1v1h-1zM244 467h1v1h-1zM246 467h1v1h-1zM250 468h1v1h-1zM265 450h1v1h-1zM263 451h1v1h-1zM274 452h1v1h-1zM282 452h1v1h-1zM286 453h1v1h-1zM273 454h1v1h-1zM291 454h1v1h-1zM279 455h1v1h-1zM284 455h1v1h-1zM285 455h1v1h-1zM293 455h1v1h-1zM268 456h1v1h-1zM279 456h1v1h-1zM289 456h1v1h-1zM290 456h1v1h-1zM276 457h1v1h-1zM290 457h1v1h-1zM291 458h1v1h-1zM266 459h1v1h-1zM273 460h1v1h-1zM287 460h1v1h-1zM272 461h1v1h-1zM288 463h1v1h-1zM279 464h1v1h-1zM289 465h1v1h-1zM272 467h1v1h-1zM273 467h1v1h-1zM268 468h1v1h-1zM273 469h1v1h-1zM287 469h1v1h-1zM274 470h1v1h-1zM279 470h1v1h-1zM291 473h1v1h-1zM324 447h1v1h-1zM325 447h1v1h-1zM326 447h1v1h-1zM328 447h1v1h-1zM329 448h1v1h-1zM330 448h1v1h-1zM336 448h1v1h-1zM338 448h1v1h-1zM339 448h1v1h-1zM340 448h1v1h-1zM341 448h1v1h-1zM344 448h1v1h-1zM347 448h1v1h-1zM348 448h1v1h-1zM326 449h1v1h-1zM327 449h1v1h-1zM329 449h1v1h-1zM338 449h1v1h-1zM340 449h1v1h-1zM344 449h1v1h-1zM414 493h1v1h-1zM416 493h1v1h-1zM419 493h1v1h-1zM418 500h1v1h-1zM425 518h1v1h-1zM426 520h1v1h-1zM430 521h1v1h-1zM434 441h1v1h-1zM431 442h1v1h-1zM433 442h1v1h-1zM432 444h1v1h-1zM438 445h1v1h-1zM432 446h1v1h-1zM436 446h1v1h-1zM438 446h1v1h-1zM440 447h1v1h-1zM435 449h1v1h-1zM438 451h1v1h-1zM433 454h1v1h-1zM433 457h1v1h-1zM434 457h1v1h-1zM435 458h1v1h-1zM434 461h1v1h-1zM434 463h1v1h-1zM432 464h1v1h-1zM432 467h1v1h-1zM434 467h1v1h-1zM434 472h1v1h-1zM447 475h1v1h-1zM448 487h1v1h-1zM533 345h1v1h-1zM540 346h1v1h-1zM542 346h1v1h-1zM546 346h1v1h-1zM535 348h1v1h-1zM532 349h1v1h-1zM534 349h1v1h-1zM547 349h1v1h-1zM529 350h1v1h-1zM548 351h1v1h-1zM528 353h1v1h-1zM542 354h1v1h-1zM538 355h1v1h-1zM541 356h1v1h-1zM542 356h1v1h-1zM540 360h1v1h-1zM537 361h1v1h-1zM535 362h1v1h-1zM539 362h1v1h-1zM529 363h1v1h-1zM532 363h1v1h-1z"/>
<path fill="#FF4800" d="M176 475h1v1h-1zM179 475h1v1h-1zM181 475h1v1h-1zM181 476h1v1h-1zM177 477h1v1h-1zM177 478h1v1h-1zM178 478h1v1h-1zM248 462h1v1h-1zM252 462h1v1h-1zM249 463h1v1h-1zM252 465h1v1h-1zM250 466h1v1h-1zM253 466h1v1h-1zM256 467h1v1h-1zM255 468h1v1h-1zM262 470h1v1h-1zM264 471h1v1h-1zM371 460h1v1h-1zM372 460h1v1h-1zM368 461h1v1h-1zM369 461h1v1h-1zM370 461h1v1h-1zM371 461h1v1h-1zM372 461h1v1h-1zM369 462h1v1h-1zM370 462h1v1h-1zM371 462h1v1h-1zM501 371h1v1h-1zM498 373h1v1h-1zM492 379h1v1h-1zM484 382h1v1h-1zM493 389h1v1h-1zM534 333h1v1h-1zM537 335h1v1h-1zM543 336h1v1h-1zM528 337h1v1h-1zM530 339h1v1h-1z"/>
<path fill="#AAFF55" d="M188 456h1v1h-1zM186 458h1v1h-1zM189 458h1v1h-1zM191 458h1v1h-1zM186 459h1v1h-1zM190 459h1v1h-1zM192 459h1v1h-1zM183 460h1v1h-1zM184 460h1v1h-1zM186 460h1v1h-1zM189 460h1v1h-1zM190 460h1v1h-1zM182 461h1v1h-1zM183 461h1v1h-1zM184 461h1v1h-1zM186 461h1v1h-1zM189 461h1v1h-1zM183 462h1v1h-1zM184 462h1v1h-1zM189 462h1v1h-1zM190 462h1v1h-1zM191 462h1v1h-1zM192 462h1v1h-1zM182 463h1v1h-1zM183 463h1v1h-1zM185 463h1v1h-1zM187 463h1v1h-1zM188 463h1v1h-1zM194 463h1v1h-1zM184 464h1v1h-1zM185 464h1v1h-1zM195 464h1v1h-1zM185 465h1v1h-1zM186 465h1v1h-1zM189 465h1v1h-1zM191 465h1v1h-1zM192 465h1v1h-1zM187 466h1v1h-1zM191 466h1v1h-1zM192 466h1v1h-1zM185 467h1v1h-1zM191 467h1v1h-1zM192 467h1v1h-1zM193 467h1v1h-1zM188 468h1v1h-1zM190 468h1v1h-1zM190 469h1v1h-1zM266 451h1v1h-1zM275 451h1v1h-1zM268 452h1v1h-1zM281 452h1v1h-1zM286 454h1v1h-1zM278 455h1v1h-1zM282 455h1v1h-1zM264 456h1v1h-1zM273 456h1v1h-1zM277 457h1v1h-1zM280 457h1v1h-1zM274 459h1v1h-1zM276 459h1v1h-1zM288 460h1v1h-1zM293 460h1v1h-1zM270 461h1v1h-1zM264 464h1v1h-1zM267 464h1v1h-1zM286 464h1v1h-1zM289 464h1v1h-1zM287 465h1v1h-1zM292 465h1v1h-1zM289 466h1v1h-1zM266 467h1v1h-1zM278 468h1v1h-1zM288 469h1v1h-1zM267 470h1v1h-1zM272 470h1v1h-1zM275 470h1v1h-1zM286 470h1v1h-1zM271 471h1v1h-1zM287 471h1v1h-1zM277 472h1v1h-1zM294 472h1v1h-1zM274 473h1v1h-1zM271 451h1v1h-1zM272 451h1v1h-1zM273 451h1v1h-1zM271 452h1v1h-1zM273 452h1v1h-1zM274 452h1v1h-1zM275 452h1v1h-1zM276 452h1v1h-1zM277 452h1v1h-1zM278 452h1v1h-1zM279 452h1v1h-1zM280 452h1v1h-1zM272 453h1v1h-1zM275 453h1v1h-1zM276 453h1v1h-1zM280 453h1v1h-1zM281 453h1v1h-1zM272 454h1v1h-1zM273 454h1v1h-1zM277 454h1v1h-1zM278 454h1v1h-1zM281 454h1v1h-1zM273 455h1v1h-1zM274 455h1v1h-1zM275 455h1v1h-1zM276 455h1v1h-1zM277 455h1v1h-1zM278 455h1v1h-1zM279 455h1v1h-1zM281 455h1v1h-1zM275 456h1v1h-1zM276 456h1v1h-1zM277 456h1v1h-1zM278 456h1v1h-1zM279 456h1v1h-1zM416 494h1v1h-1zM422 498h1v1h-1zM424 498h1v1h-1zM417 500h1v1h-1zM556 283h1v1h-1zM540 287h1v1h-1zM557 290h1v1h-1zM545 304h1v1h-1zM551 304h1v1h-1zM547 308h1v1h-1zM546 312h1v1h-1zM601 247h1v1h-1zM594 248h1v1h-1zM601 248h1v1h-1zM589 249h1v1h-1zM598 249h1v1h-1zM600 250h1v1h-1zM581 251h1v1h-1zM597 251h1v1h-1zM595 252h1v1h-1zM602 252h1v1h-1zM573 253h1v1h-1zM575 253h1v1h-1zM583 253h1v1h-1zM587 253h1v1h-1zM592 253h1v1h-1zM579 255h1v1h-1zM582 256h1v1h-1zM570 257h1v1h-1zM581 259h1v1h-1z"/>
<path fill="#FF9E00" d="M214 453h1v1h-1zM206 454h1v1h-1zM208 455h1v1h-1zM218 455h1v1h-1zM207 456h1v1h-1zM210 456h1v1h-1zM203 457h1v1h-1zM205 457h1v1h-1zM207 457h1v1h-1zM211 457h1v1h-1zM208 458h1v1h-1zM211 460h1v1h-1zM221 461h1v1h-1zM217 462h1v1h-1zM211 463h1v1h-1zM210 456h1v1h-1zM214 456h1v1h-1zM228 457h1v1h-1zM216 458h1v1h-1zM229 458h1v1h-1zM207 459h1v1h-1zM213 459h1v1h-1zM218 459h1v1h-1zM231 459h1v1h-1zM233 459h1v1h-1zM209 460h1v1h-1zM212 460h1v1h-1zM233 460h1v1h-1zM214 462h1v1h-1zM223 462h1v1h-1zM234 462h1v1h-1zM235 462h1v1h-1zM238 462h1v1h-1zM246 462h1v1h-1zM239 463h1v1h-1zM243 463h1v1h-1zM244 463h1v1h-1zM236 464h1v1h-1zM247 464h1v1h-1zM251 465h1v1h-1zM239 466h1v1h-1zM248 467h1v1h-1zM220 450h1v1h-1zM208 451h1v1h-1zM228 451h1v1h-1zM214 452h1v1h-1zM216 453h1v1h-1zM208 454h1v1h-1zM246 461h1v1h-1zM248 463h1v1h-1zM253 463h1v1h-1zM254 463h1v1h-1zM248 464h1v1h-1zM249 464h1v1h-1zM255 465h1v1h-1zM256 465h1v1h-1zM257 465h1v1h-1zM256 466h1v1h-1zM257 466h1v1h-1zM260 466h1v1h-1zM252 467h1v1h-1zM255 467h1v1h-1zM260 467h1v1h-1zM261 467h1v1h-1zM263 467h1v1h-1zM264 467h1v1h-1zM259 468h1v1h-1zM256 469h1v1h-1zM260 469h1v1h-1zM261 469h1v1h-1zM262 469h1v1h-1zM263 469h1v1h-1zM265 469h1v1h-1zM258 470h1v1h-1zM264 470h1v1h-1zM262 471h1v1h-1zM261 472h1v1h-1zM272 450h1v1h-1zM277 451h1v1h-1zM263 452h1v1h-1zM269 452h1v1h-1zM276 452h1v1h-1zM283 453h1v1h-1zM272 454h1v1h-1zM275 454h1v1h-1zM279 454h1v1h-1zM265 455h1v1h-1zM266 455h1v1h-1zM289 455h1v1h-1zM265 456h1v1h-1zM294 456h1v1h-1zM273 457h1v1h-1zM282 457h1v1h-1zM292 457h1v1h-1zM271 458h1v1h-1zM277 458h1v1h-1zM289 458h1v1h-1zM280 460h1v1h-1zM283 460h1v1h-1zM282 462h1v1h-1zM294 462h1v1h-1zM293 464h1v1h-1zM276 467h1v1h-1zM289 468h1v1h-1zM269 469h1v1h-1zM271 469h1v1h-1zM285 469h1v1h-1zM277 470h1v1h-1zM280 470h1v1h-1zM279 471h1v1h-1zM275 472h1v1h-1zM288 472h1v1h-1zM294 474h1v1h-1zM291 475h1v1h-1zM290 476h1v1h-1zM433 440h1v1h-1zM432 445h1v1h-1zM438 448h1v1h-1zM434 450h1v1h-1zM434 451h1v1h-1zM437 453h1v1h-1zM434 458h1v1h-1zM434 462h1v1h-1zM434 469h1v1h-1zM434 473h1v1h-1zM441 535h1v1h-1zM447 535h1v1h-1zM444 537h1v1h-1zM446 538h1v1h-1zM445 539h1v1h-1zM444 540h1v1h-1zM448 540h1v1h-1zM447 541h1v1h-1zM444 542h1v1h-1zM446 542h1v1h-1zM448 544h1v1h-1zM448 545h1v1h-1zM471 399h1v1h-1zM445 414h1v1h-1zM440 430h1v1h-1zM442 430h1v1h-1z"/>
<path fill="#B50000" d="M253 457h1v1h-1zM253 459h1v1h-1zM258 460h1v1h-1zM253 461h1v1h-1zM257 461h1v1h-1zM254 462h1v1h-1zM255 462h1v1h-1zM256 462h1v1h-1zM260 462h1v1h-1zM255 463h1v1h-1zM257 463h1v1h-1zM259 463h1v1h-1zM260 463h1v1h-1zM259 464h1v1h-1zM262 464h1v1h-1z"/>
<path fill="#E80000" d="M253 458h1v1h-1zM254 458h1v1h-1zM255 458h1v1h-1zM254 459h1v1h-1zM255 459h1v1h-1zM256 459h1v1h-1zM254 460h1v1h-1zM255 460h1v1h-1zM256 460h1v1h-1zM257 460h1v1h-1zM254 461h1v1h-1zM255 461h1v1h-1zM256 461h1v1h-1zM258 461h1v1h-1zM259 461h1v1h-1zM253 462h1v1h-1zM257 462h1v1h-1zM258 462h1v1h-1zM259 462h1v1h-1zM254 463h1v1h-1zM256 463h1v1h-1zM258 463h1v1h-1zM261 463h1v1h-1zM256 464h1v1h-1zM258 464h1v1h-1zM260 464h1v1h-1zM261 464h1v1h-1zM257 465h1v1h-1zM258 465h1v1h-1zM259 465h1v1h-1zM260 465h1v1h-1zM261 465h1v1h-1zM258 466h1v1h-1zM259 466h1v1h-1z"/>
<path fill="#FF7800" d="M247 462h1v1h-1zM251 462h1v1h-1zM250 463h1v1h-1zM250 464h1v1h-1zM252 464h1v1h-1zM253 464h1v1h-1zM254 464h1v1h-1zM255 464h1v1h-1zM250 465h1v1h-1zM251 465h1v1h-1zM253 465h1v1h-1zM254 465h1v1h-1zM251 466h1v1h-1zM254 466h1v1h-1zM255 466h1v1h-1zM258 466h1v1h-1zM259 466h1v1h-1zM261 466h1v1h-1zM254 467h1v1h-1zM257 467h1v1h-1zM256 468h1v1h-1zM257 468h1v1h-1zM258 468h1v1h-1zM265 468h1v1h-1zM259 469h1v1h-1zM264 469h1v1h-1zM259 470h1v1h-1zM260 470h1v1h-1zM261 471h1v1h-1zM263 471h1v1h-1zM265 471h1v1h-1zM365 449h1v1h-1zM359 450h1v1h-1zM365 450h1v1h-1zM360 451h1v1h-1zM363 451h1v1h-1zM368 452h1v1h-1zM372 455h1v1h-1zM374 455h1v1h-1zM372 457h1v1h-1zM378 459h1v1h-1zM368 462h1v1h-1zM528 350h1v1h-1zM525 365h1v1h-1z"/>
<path fill="#FF1800" d="M302 442h1v1h-1zM302 446h1v1h-1zM303 447h1v1h-1zM308 447h1v1h-1zM307 448h1v1h-1zM304 449h1v1h-1zM308 450h1v1h-1z"/>
<path fill="#AAFF55" d="M538.12 327.42 L535.78 326.25 L534.22 323.12 L535.78 320 L535.78 316.88 L536.56 313.75 L537.34 310.62 L535.78 308.28 L534.22 305.94 L533.44 302.81 L532.66 299.69 L531.88 296.56 L531.48 293.44 L532.66 290.31 L533.44 287.19 L535 284.84 L537.34 283.28 L539.69 280.94 L541.25 279.38 L542.03 280.55 L540.08 282.89 L537.73 285.23 L536.17 287.58 L535.78 291.09 L536.56 294.22 L537.34 297.34 L538.91 300.47 L541.25 302.81 L543.59 304.38 L544.38 306.72 L545.94 309.06 L546.72 311.41 L544.38 312.97 L542.81 315.31 L542.03 318.44 L541.25 321.56 L541.25 324.69 L540.86 327.42Z"/>
<path fill="#DCFF23" d="M538.12 327.42 L535.78 326.25 L534.38 323.12 L535.94 320 L536.17 316.88 L541.25 316.09 L542.03 318.44 L541.25 321.56 L541.25 324.69 L540.86 327.42Z"/>
<path fill="#53FFAC" d="M541.25 304.38 L543.2 304.77 L543.75 307.5 L542.03 308.67 L540.86 306.72Z"/>
<path fill="#AAFF55" d="M533.83 306.09 L529.53 304.38 L525.62 303.2 L522.5 301.64 L521.72 302.66 L525.23 304.38 L529.14 305.78 L533.44 307.5Z"/>
<path fill="#E8F5D8" d="M522.5 301.64 L520.16 299.69 L518.2 300.08 L517.42 296.95 L518.44 296.56 L518.75 299.06 L520.55 298.75 L522.89 300.86Z"/>
<path fill="#E8F5D8" d="M536.17 316.09 L531.09 313.12 L527.19 310.78 L524.06 308.67 L523.67 309.3 L526.8 311.64 L530.7 314.14 L535.78 317.27Z"/>
<path fill="#E8F5D8" d="M535 322.73 L531.09 320.23 L527.19 317.89 L525.23 316.88 L524.84 317.5 L526.8 318.67 L530.7 321.17 L534.61 323.91Z"/>
<path fill="#DDF7A0" d="M535.78 325.86 L532.66 324.53 L528.75 323.36 L524.06 322.97 L524.06 323.75 L528.75 324.3 L532.5 325.47 L535.62 326.88Z"/>
<path fill="#E8F5D8" d="M546.72 311.41 L549.06 309.06 L552.19 306.72 L555.31 304.38 L557.27 302.81 L557.66 303.59 L555.7 305.31 L552.58 307.66 L549.45 310 L547.11 312.58Z"/>
<path fill="#E8F5D8" d="M542.03 323.91 L544.38 320.39 L546.72 316.88 L547.5 317.34 L545.16 320.94 L542.81 324.69Z"/>
<path fill="#E80000" d="M760.16 171.09 L769.06 170.62 L766.88 172.81 L764.06 174.38 L760.16 175.16Z"/>
<path fill="#fff" d="M755.47 173.75 L760.16 172.97 L760.16 173.59 L755.78 174.53Z"/>
<path fill="#FFCE00" d="M549.06 281.72 L551.41 282.89 L553.75 284.84 L556.09 285.23 L557.66 284.06 L560 286.8 L563.12 286.41 L560.78 289.53 L560 292.66 L556.88 292.27 L554.53 291.09 L552.58 289.53 L551.8 286.8 L550.62 284.06Z"/>
<path fill="#E8F5D8" d="M549.45 281.33 L548.67 278.59 L550.62 275.86 L552.58 274.69 L552.81 275.47 L551.02 276.64 L549.69 278.75 L550.23 281.33Z"/>
<path fill="#AAFF55" d="M528.75 359.84 L533.91 357.81 L539.38 356.72 L544.84 355.16 L547.97 352.03 L550 348.12 L551.25 354.38 L549.69 359.69 L545 362.5 L539.69 365 L533.44 368.12 L530 365.31 L527.66 362.19Z"/>
<path fill="#DCFF23" d="M530 345.94 L536.25 343.44 L542.5 342.5 L547.19 344.38 L546.41 348.75 L539.38 347.81 L533.12 348.75Z"/>
<path fill="#FFCE00" d="M535.47 353.59 L539.38 352.5 L541.72 354.38 L539.38 356.72 L536.25 355.94Z"/>
<path fill="#FFC400" d="M485 390.62 L491.72 387.19 L498.75 385.62 L504.06 386.25 L499.53 389.69 L492.5 391.56 L486.25 393.75Z"/>
<path fill="none" stroke="#7FFF80" stroke-width="1" d="M387.5 725 L389.06 720.31 L400 716.41 L412.5 715.62 L420.31 720.31 L425.78 728.12 L426.25 732.03 L423.44 733.59"/>
</g>
<rect x="129.5" y="162.25" width="710.5" height="698" fill="none" stroke="#000" stroke-width="1"/>
<path d="M112.5 177.5H129.5M112.5 271.14H129.5M112.5 364.78H129.5M112.5 458.42H129.5M112.5 552.06H129.5M112.5 645.7H129.5M112.5 739.34H129.5M112.5 832.98H129.5M185.6 860.5V876.7M279.18 860.5V876.7M372.76 860.5V876.7M466.34 860.5V876.7M559.92 860.5V876.7M653.5 860.5V876.7M747.08 860.5V876.7" stroke="#000" stroke-width="1" fill="none"/>
<text x="98.6" y="185.95" font-size="23" text-anchor="end">45°N</text>
<text x="98.6" y="279.59" font-size="23" text-anchor="end">40°N</text>
<text x="98.6" y="373.23" font-size="23" text-anchor="end">35°N</text>
<text x="98.6" y="466.87" font-size="23" text-anchor="end">30°N</text>
<text x="98.6" y="560.51" font-size="23" text-anchor="end">25°N</text>
<text x="98.6" y="654.15" font-size="23" text-anchor="end">20°N</text>
<text x="98.6" y="747.79" font-size="23" text-anchor="end">15°N</text>
<text x="98.6" y="841.43" font-size="23" text-anchor="end">10°N</text>
<text x="185.5" y="910.2" font-size="23" text-anchor="middle">95°W</text>
<text x="279.08" y="910.2" font-size="23" text-anchor="middle">90°W</text>
<text x="372.66" y="910.2" font-size="23" text-anchor="middle">85°W</text>
<text x="466.24" y="910.2" font-size="23" text-anchor="middle">80°W</text>
<text x="559.82" y="910.2" font-size="23" text-anchor="middle">75°W</text>
<text x="653.4" y="910.2" font-size="23" text-anchor="middle">70°W</text>
<text x="746.98" y="910.2" font-size="23" text-anchor="middle">65°W</text>
<text x="484.3" y="945" font-size="23" text-anchor="middle">Longitude</text>
<text transform="translate(41.5,511.3) rotate(-90)" font-size="22.6" text-anchor="middle">Latitude</text>
<text x="163.3" y="133.8" font-size="25.6">2021080120</text>
<text x="731.6" y="128.8" font-size="25.6" text-anchor="middle">Elevation (m)</text>
<g shape-rendering="crispEdges">
<rect x="878.4" y="169.25" width="42.60000000000002" height="31.38" fill="#8B0000"/>
<rect x="878.4" y="200.33" width="42.60000000000002" height="31.38" fill="#B50000"/>
<rect x="878.4" y="231.41" width="42.60000000000002" height="31.38" fill="#E80000"/>
<rect x="878.4" y="262.49" width="42.60000000000002" height="31.38" fill="#FF1800"/>
<rect x="878.4" y="293.57" width="42.60000000000002" height="31.38" fill="#FF4800"/>
<rect x="878.4" y="324.65" width="42.60000000000002" height="31.38" fill="#FF7800"/>
<rect x="878.4" y="355.73" width="42.60000000000002" height="31.38" fill="#FF9E00"/>
<rect x="878.4" y="386.81" width="42.60000000000002" height="31.38" fill="#FFCE00"/>
<rect x="878.4" y="417.89" width="42.60000000000002" height="31.38" fill="#FFF500"/>
<rect x="878.4" y="448.97" width="42.60000000000002" height="31.38" fill="#DCFF23"/>
<rect x="878.4" y="480.05" width="42.60000000000002" height="31.38" fill="#AAFF55"/>
<rect x="878.4" y="511.12" width="42.60000000000002" height="31.38" fill="#7FFF80"/>
<rect x="878.4" y="542.20" width="42.60000000000002" height="31.38" fill="#53FFAC"/>
<rect x="878.4" y="573.28" width="42.60000000000002" height="31.38" fill="#23FFDC"/>
<rect x="878.4" y="604.36" width="42.60000000000002" height="31.38" fill="#00F4FF"/>
<rect x="878.4" y="635.44" width="42.60000000000002" height="31.38" fill="#00C4FF"/>
<rect x="878.4" y="666.52" width="42.60000000000002" height="31.38" fill="#0098FF"/>
<rect x="878.4" y="697.60" width="42.60000000000002" height="31.38" fill="#0068FF"/>
<rect x="878.4" y="728.68" width="42.60000000000002" height="31.38" fill="#0038FF"/>
<rect x="878.4" y="759.76" width="42.60000000000002" height="31.38" fill="#0008FF"/>
<rect x="878.4" y="790.84" width="42.60000000000002" height="31.38" fill="#0000DD"/>
<rect x="878.4" y="821.92" width="42.60000000000002" height="31.38" fill="#0000B0"/>
</g>
<path d="M878.4 200.33H921M878.4 231.41H921M878.4 262.49H921M878.4 293.57H921M878.4 324.65H921M878.4 355.73H921M878.4 386.81H921M878.4 417.89H921M878.4 448.97H921M878.4 480.05H921M878.4 511.12H921M878.4 542.20H921M878.4 573.28H921M878.4 604.36H921M878.4 635.44H921M878.4 666.52H921M878.4 697.60H921M878.4 728.68H921M878.4 759.76H921M878.4 790.84H921M878.4 821.92H921" stroke="#000" stroke-opacity="0.8" stroke-width="0.8"/>
<rect x="878.4" y="169.25" width="42.60000000000002" height="683.75" fill="none" stroke="#000" stroke-opacity="0.5" stroke-width="0.6"/>
<text x="960" y="211.8" font-size="32" text-anchor="middle">2</text>
<text x="960" y="273.9" font-size="32" text-anchor="middle">1.6</text>
<text x="960" y="336.1" font-size="32" text-anchor="middle">1.2</text>
<text x="960" y="398.3" font-size="32" text-anchor="middle">0.8</text>
<text x="960" y="460.4" font-size="32" text-anchor="middle">0.4</text>
<text x="960" y="522.6" font-size="32" text-anchor="middle">0</text>
<text x="960" y="584.7" font-size="32" text-anchor="middle">-0.4</text>
<text x="960" y="646.9" font-size="32" text-anchor="middle">-0.8</text>
<text x="960" y="709.1" font-size="32" text-anchor="middle">-1.2</text>
<text x="960" y="771.2" font-size="32" text-anchor="middle">-1.6</text>
<text x="960" y="833.4" font-size="32" text-anchor="middle">-2</text>
</svg></body></html>
